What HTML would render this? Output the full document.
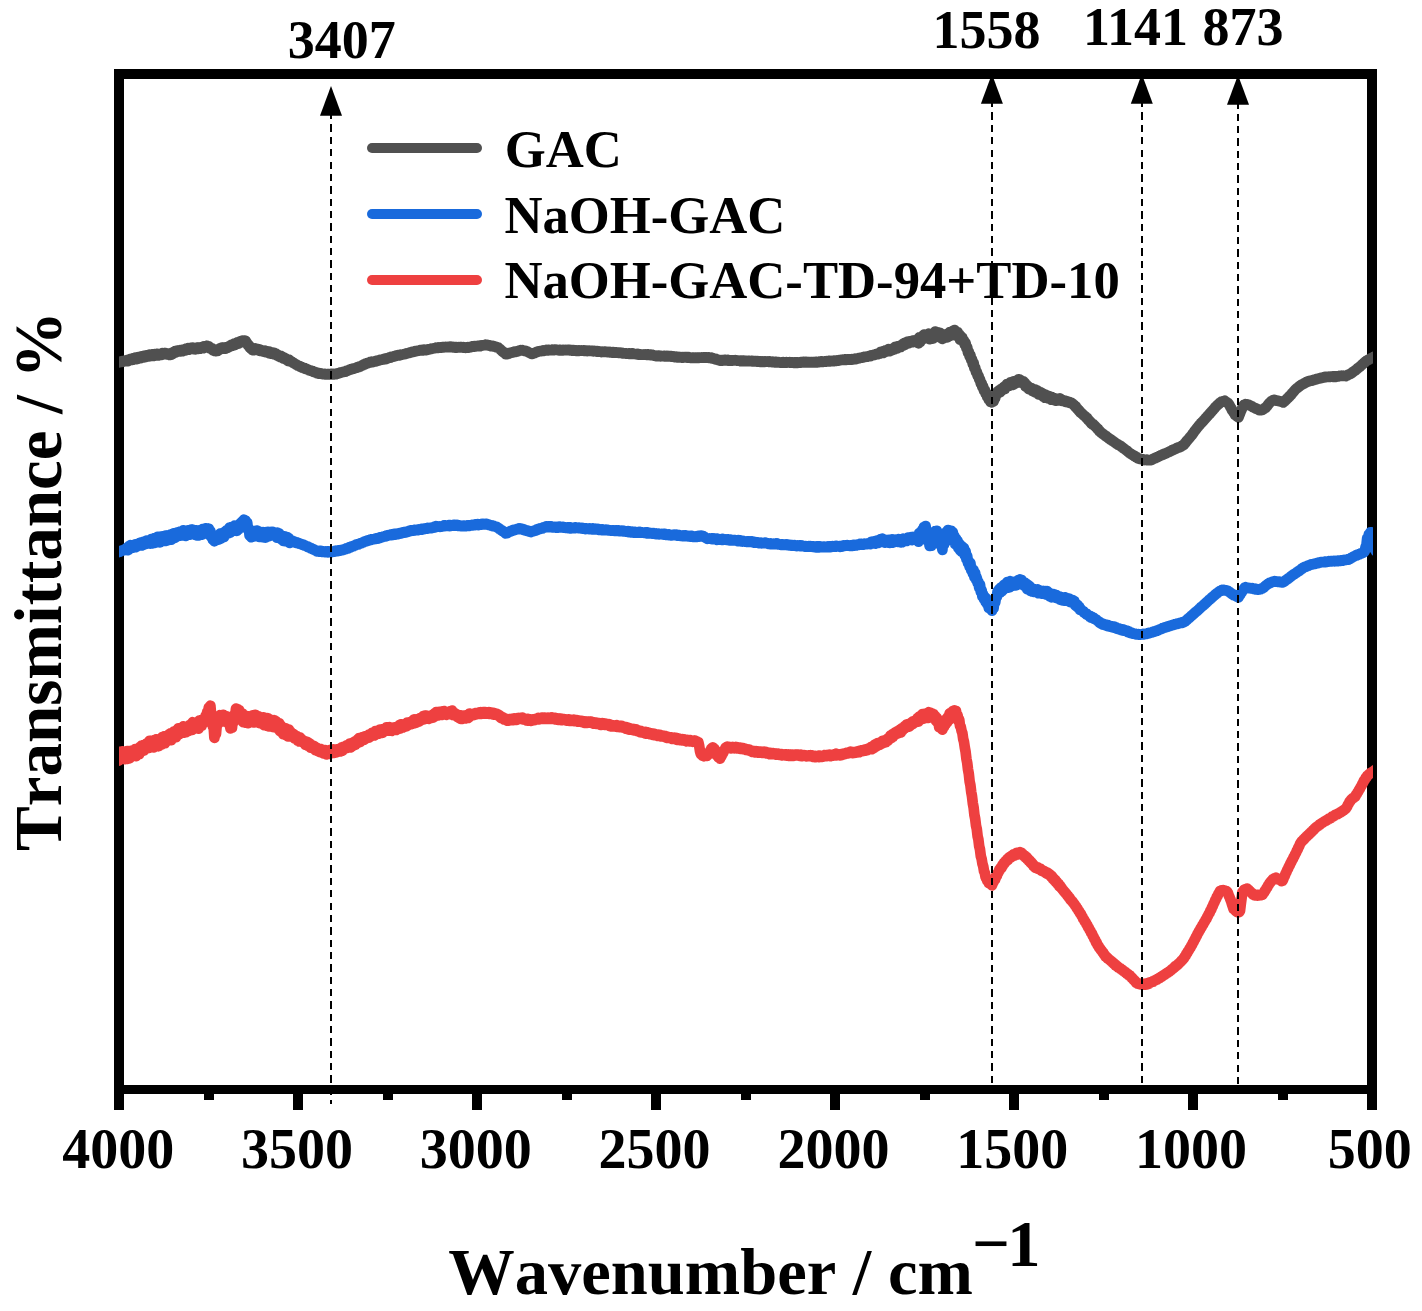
<!DOCTYPE html>
<html><head><meta charset="utf-8"><title>FTIR spectra</title>
<style>html,body{margin:0;padding:0;background:#fff;}svg{display:block;}text{font-family:"Liberation Serif",serif;font-weight:bold;fill:#000;}</style>
</head><body>
<svg width="1422" height="1311" viewBox="0 0 1422 1311">
<rect x="0" y="0" width="1422" height="1311" fill="#fff"/>
<g fill="#000" shape-rendering="crispEdges">
<rect x="114.3" y="69.0" width="1262.7" height="10.0"/>
<rect x="114.3" y="1084.8" width="1262.7" height="9.6"/>
<rect x="114.3" y="69.0" width="10.0" height="1040.6"/>
<rect x="1367.3" y="69.0" width="9.7" height="1040.6"/>
<rect x="203.5" y="1084.8" width="10" height="14.8"/>
<rect x="293.0" y="1084.8" width="10" height="24.8"/>
<rect x="382.5" y="1084.8" width="10" height="14.8"/>
<rect x="472.0" y="1084.8" width="10" height="24.8"/>
<rect x="561.5" y="1084.8" width="10" height="14.8"/>
<rect x="651.0" y="1084.8" width="10" height="24.8"/>
<rect x="740.5" y="1084.8" width="10" height="14.8"/>
<rect x="830.0" y="1084.8" width="10" height="24.8"/>
<rect x="919.5" y="1084.8" width="10" height="14.8"/>
<rect x="1009.0" y="1084.8" width="10" height="24.8"/>
<rect x="1098.5" y="1084.8" width="10" height="14.8"/>
<rect x="1188.0" y="1084.8" width="10" height="24.8"/>
<rect x="1277.5" y="1084.8" width="10" height="14.8"/>
</g>
<defs><clipPath id="cc"><rect x="119.1" y="80" width="1254" height="1005"/></clipPath></defs>
<g clip-path="url(#cc)">
<path d="M116.0,362.6 L116.8,362.7 L117.6,362.3 L118.4,362.5 L119.2,361.9 L120.0,362.1 L120.8,361.5 L121.6,361.9 L122.4,361.2 L123.2,361.6 L124.0,361.0 L124.8,361.2 L125.6,360.6 L126.4,361.2 L127.2,360.0 L128.0,361.1 L128.8,359.7 L129.6,360.3 L130.4,359.0 L131.2,360.0 L132.0,358.5 L132.8,359.7 L133.6,358.0 L134.4,359.2 L135.2,357.7 L136.0,359.2 L136.8,357.8 L137.6,358.9 L138.4,357.1 L139.2,358.1 L140.0,357.0 L140.8,358.1 L141.6,356.4 L142.4,357.5 L143.2,356.1 L144.0,357.4 L144.8,355.5 L145.6,357.0 L146.4,355.3 L147.2,356.5 L148.0,355.3 L148.8,356.3 L149.6,354.7 L150.4,356.1 L151.2,354.6 L152.0,355.7 L152.8,354.3 L153.6,356.0 L154.4,354.1 L155.2,355.6 L156.0,354.1 L156.8,355.3 L157.6,353.8 L158.4,355.4 L159.2,354.0 L160.0,354.8 L160.8,353.8 L161.6,354.8 L162.4,353.2 L163.2,354.3 L164.0,353.2 L164.8,354.1 L165.6,353.0 L166.4,354.3 L167.2,353.4 L168.0,354.6 L168.8,353.6 L169.6,355.0 L170.4,354.1 L171.2,354.7 L172.0,352.8 L172.8,353.8 L173.6,351.8 L174.4,352.9 L175.2,351.0 L176.0,352.2 L176.8,350.9 L177.6,351.6 L178.4,350.5 L179.2,351.5 L180.0,350.2 L180.8,351.5 L181.6,350.0 L182.4,351.2 L183.2,349.6 L184.0,350.5 L184.8,349.2 L185.6,350.4 L186.4,348.6 L187.2,349.7 L188.0,348.2 L188.8,349.7 L189.6,348.0 L190.4,349.0 L191.2,347.8 L192.0,348.9 L192.8,347.7 L193.6,349.1 L194.4,348.1 L195.2,349.4 L196.0,347.9 L196.8,349.0 L197.6,347.5 L198.4,348.9 L199.2,347.5 L200.0,348.7 L200.8,347.5 L201.6,348.3 L202.4,347.0 L203.2,348.2 L204.0,346.3 L204.8,347.4 L205.6,346.2 L206.4,347.0 L207.2,345.9 L208.0,347.5 L208.8,346.4 L209.6,348.3 L210.4,347.7 L211.2,349.0 L212.0,348.3 L212.8,350.2 L213.6,349.3 L214.4,350.9 L215.2,350.1 L216.0,351.2 L216.8,350.2 L217.6,351.0 L218.4,349.3 L219.2,350.0 L220.0,348.3 L220.8,349.0 L221.6,347.7 L222.4,348.7 L223.2,347.6 L224.0,348.6 L224.8,347.6 L225.6,348.6 L226.4,347.2 L227.2,348.0 L228.0,346.6 L228.8,347.3 L229.6,345.9 L230.4,346.3 L231.2,344.8 L232.0,345.9 L232.8,344.3 L233.6,345.4 L234.4,343.6 L235.2,344.8 L236.0,343.2 L236.8,344.1 L237.6,342.3 L238.4,343.6 L239.2,341.9 L240.0,342.6 L240.8,341.0 L241.6,342.0 L242.4,340.5 L243.2,342.1 L244.0,340.7 L244.8,341.4 L245.6,340.8 L246.4,343.0 L247.2,343.1 L248.0,345.3 L248.8,345.0 L249.6,347.3 L250.4,347.1 L251.2,349.0 L252.0,348.7 L252.8,350.2 L253.6,349.2 L254.4,350.1 L255.2,348.3 L256.0,349.8 L256.8,348.8 L257.6,350.1 L258.4,349.0 L259.2,350.6 L260.0,349.6 L260.8,351.0 L261.6,350.4 L262.4,351.2 L263.2,350.7 L264.0,351.8 L264.8,350.7 L265.6,352.1 L266.4,351.2 L267.2,352.3 L268.0,351.6 L268.8,353.1 L269.6,351.6 L270.4,353.6 L271.2,352.6 L272.0,353.5 L272.8,352.5 L273.6,354.1 L274.4,352.9 L275.2,354.4 L276.0,353.7 L276.8,355.3 L277.6,354.5 L278.4,356.2 L279.2,355.6 L280.0,357.0 L280.8,355.9 L281.6,357.5 L282.4,356.8 L283.2,358.5 L284.0,357.5 L284.8,358.9 L285.6,358.4 L286.4,359.8 L287.2,359.2 L288.0,360.8 L288.8,359.5 L289.6,361.4 L290.4,360.9 L291.2,361.8 L292.0,361.9 L292.8,362.8 L293.6,362.9 L294.4,363.8 L295.2,363.8 L296.0,364.7 L296.8,364.7 L297.6,365.6 L298.4,365.5 L299.2,366.3 L300.0,366.2 L300.8,367.0 L301.6,366.8 L302.4,367.6 L303.2,367.5 L304.0,368.3 L304.8,368.2 L305.6,368.9 L306.4,368.9 L307.2,369.5 L308.0,369.5 L308.8,370.1 L309.6,370.2 L310.4,370.8 L311.2,370.7 L312.0,371.3 L312.8,371.2 L313.6,371.9 L314.4,371.9 L315.2,372.5 L316.0,372.4 L316.8,373.1 L317.6,373.0 L318.4,373.5 L319.2,373.2 L320.0,373.7 L320.8,373.4 L321.6,374.0 L322.4,373.8 L323.2,374.2 L324.0,373.9 L324.8,374.3 L325.6,374.1 L326.4,374.3 L327.2,374.1 L328.0,374.4 L328.8,374.1 L329.6,374.4 L330.4,374.0 L331.2,374.3 L332.0,373.9 L332.8,374.3 L333.6,373.9 L334.4,374.3 L335.2,373.9 L336.0,374.2 L336.8,373.7 L337.6,373.8 L338.4,373.2 L339.2,373.3 L340.0,372.7 L340.8,372.8 L341.6,372.3 L342.4,372.3 L343.2,371.8 L344.0,372.0 L344.8,371.5 L345.6,371.6 L346.4,370.9 L347.2,370.9 L348.0,370.3 L348.8,370.3 L349.6,369.7 L350.4,369.7 L351.2,369.0 L352.0,369.1 L352.8,368.6 L353.6,368.7 L354.4,368.3 L355.2,368.3 L356.0,367.8 L356.8,367.7 L357.6,367.1 L358.4,367.2 L359.2,366.5 L360.0,366.6 L360.8,366.0 L361.6,366.0 L362.4,365.1 L363.2,365.1 L364.0,364.4 L364.8,364.4 L365.6,363.7 L366.4,363.8 L367.2,363.1 L368.0,363.1 L368.8,362.5 L369.6,362.6 L370.4,362.0 L371.2,362.3 L372.0,361.7 L372.8,362.0 L373.6,361.5 L374.4,361.7 L375.2,361.2 L376.0,361.4 L376.8,360.9 L377.6,360.9 L378.4,360.4 L379.2,360.4 L380.0,359.8 L380.8,360.0 L381.6,359.5 L382.4,359.7 L383.2,359.2 L384.0,359.4 L384.8,358.9 L385.6,359.1 L386.4,358.4 L387.2,358.6 L388.0,358.0 L388.8,358.0 L389.6,357.4 L390.4,357.6 L391.2,356.9 L392.0,357.0 L392.8,356.5 L393.6,356.6 L394.4,356.0 L395.2,356.2 L396.0,355.6 L396.8,355.8 L397.6,355.3 L398.4,355.5 L399.2,354.9 L400.0,355.3 L400.8,354.7 L401.6,354.8 L402.4,354.5 L403.2,354.5 L404.0,354.0 L404.8,354.2 L405.6,353.7 L406.4,353.8 L407.2,353.3 L408.0,353.3 L408.8,352.8 L409.6,352.9 L410.4,352.3 L411.2,352.4 L412.0,351.9 L412.8,352.0 L413.6,351.6 L414.4,351.7 L415.2,351.1 L416.0,351.2 L416.8,350.9 L417.6,351.0 L418.4,350.5 L419.2,350.7 L420.0,350.2 L420.8,350.4 L421.6,350.1 L422.4,350.4 L423.2,349.9 L424.0,350.2 L424.8,349.7 L425.6,350.1 L426.4,349.6 L427.2,349.9 L428.0,349.3 L428.8,349.5 L429.6,349.1 L430.4,349.2 L431.2,348.7 L432.0,348.8 L432.8,348.5 L433.6,348.5 L434.4,348.0 L435.2,348.2 L436.0,347.7 L436.8,348.0 L437.6,347.6 L438.4,347.8 L439.2,347.4 L440.0,347.7 L440.8,347.4 L441.6,347.6 L442.4,347.1 L443.2,347.4 L444.0,347.1 L444.8,347.2 L445.6,346.8 L446.4,347.2 L447.2,346.9 L448.0,347.2 L448.8,346.8 L449.6,347.2 L450.4,346.7 L451.2,347.2 L452.0,346.9 L452.8,347.3 L453.6,347.1 L454.4,347.4 L455.2,347.2 L456.0,347.7 L456.8,347.2 L457.6,347.5 L458.4,347.2 L459.2,347.5 L460.0,347.1 L460.8,347.4 L461.6,347.1 L462.4,347.5 L463.2,347.2 L464.0,347.7 L464.8,347.4 L465.6,347.8 L466.4,347.4 L467.2,347.6 L468.0,347.1 L468.8,347.5 L469.6,347.0 L470.4,347.1 L471.2,346.7 L472.0,346.9 L472.8,346.4 L473.6,346.7 L474.4,346.2 L475.2,346.4 L476.0,346.0 L476.8,346.2 L477.6,345.8 L478.4,346.1 L479.2,345.8 L480.0,346.1 L480.8,345.6 L481.6,345.8 L482.4,345.3 L483.2,345.5 L484.0,345.0 L484.8,345.2 L485.6,344.7 L486.4,345.0 L487.2,344.8 L488.0,345.4 L488.8,345.2 L489.6,345.8 L490.4,345.7 L491.2,346.2 L492.0,345.9 L492.8,346.3 L493.6,346.1 L494.4,346.7 L495.2,346.5 L496.0,347.2 L496.8,347.1 L497.6,347.7 L498.4,347.6 L499.2,348.7 L500.0,349.0 L500.8,350.1 L501.6,350.4 L502.4,351.5 L503.2,351.7 L504.0,352.8 L504.8,353.1 L505.6,354.2 L506.4,354.0 L507.2,354.1 L508.0,353.6 L508.8,353.6 L509.6,352.9 L510.4,353.0 L511.2,352.5 L512.0,352.6 L512.8,352.1 L513.6,352.3 L514.4,351.7 L515.2,351.9 L516.0,351.6 L516.8,351.6 L517.6,351.0 L518.4,351.2 L519.2,350.6 L520.0,350.6 L520.8,350.1 L521.6,350.5 L522.4,350.2 L523.2,350.7 L524.0,350.6 L524.8,351.0 L525.6,350.9 L526.4,351.4 L527.2,351.4 L528.0,352.2 L528.8,352.3 L529.6,353.0 L530.4,353.1 L531.2,353.8 L532.0,353.8 L532.8,353.8 L533.6,353.1 L534.4,353.2 L535.2,352.5 L536.0,352.4 L536.8,351.8 L537.6,352.0 L538.4,351.4 L539.2,351.5 L540.0,351.0 L540.8,351.2 L541.6,350.8 L542.4,350.9 L543.2,350.4 L544.0,350.8 L544.8,350.3 L545.6,350.5 L546.4,350.0 L547.2,350.3 L548.0,349.9 L548.8,350.3 L549.6,350.0 L550.4,350.2 L551.2,349.9 L552.0,350.2 L552.8,349.7 L553.6,350.1 L554.4,349.7 L555.2,349.9 L556.0,349.6 L556.8,350.0 L557.6,349.8 L558.4,350.2 L559.2,349.9 L560.0,350.4 L560.8,350.1 L561.6,350.4 L562.4,350.1 L563.2,350.3 L564.0,349.9 L564.8,350.2 L565.6,349.8 L566.4,350.2 L567.2,349.8 L568.0,350.1 L568.8,349.9 L569.6,350.3 L570.4,350.0 L571.2,350.3 L572.0,350.1 L572.8,350.6 L573.6,350.2 L574.4,350.7 L575.2,350.4 L576.0,350.8 L576.8,350.4 L577.6,350.8 L578.4,350.4 L579.2,350.8 L580.0,350.4 L580.8,350.7 L581.6,350.4 L582.4,350.7 L583.2,350.4 L584.0,350.8 L584.8,350.6 L585.6,350.9 L586.4,350.6 L587.2,351.0 L588.0,350.6 L588.8,351.0 L589.6,350.7 L590.4,351.0 L591.2,350.8 L592.0,351.1 L592.8,350.8 L593.6,351.3 L594.4,350.9 L595.2,351.2 L596.0,351.0 L596.8,351.5 L597.6,351.2 L598.4,351.6 L599.2,351.4 L600.0,351.7 L600.8,351.5 L601.6,352.0 L602.4,351.7 L603.2,352.0 L604.0,351.7 L604.8,351.9 L605.6,351.6 L606.4,352.0 L607.2,351.8 L608.0,352.2 L608.8,351.9 L609.6,352.3 L610.4,352.1 L611.2,352.5 L612.0,352.2 L612.8,352.6 L613.6,352.2 L614.4,352.6 L615.2,352.3 L616.0,352.6 L616.8,352.4 L617.6,352.7 L618.4,352.5 L619.2,352.9 L620.0,352.6 L620.8,352.9 L621.6,352.8 L622.4,353.3 L623.2,353.0 L624.0,353.4 L624.8,353.3 L625.6,353.6 L626.4,353.4 L627.2,353.7 L628.0,353.5 L628.8,353.8 L629.6,353.4 L630.4,353.8 L631.2,353.4 L632.0,353.9 L632.8,353.5 L633.6,354.0 L634.4,353.8 L635.2,354.1 L636.0,354.0 L636.8,354.3 L637.6,354.0 L638.4,354.6 L639.2,354.2 L640.0,354.7 L640.8,354.4 L641.6,354.7 L642.4,354.5 L643.2,354.7 L644.0,354.4 L644.8,354.7 L645.6,354.4 L646.4,354.8 L647.2,354.4 L648.0,354.9 L648.8,354.6 L649.6,354.9 L650.4,354.7 L651.2,355.2 L652.0,354.9 L652.8,355.4 L653.6,355.2 L654.4,355.6 L655.2,355.5 L656.0,356.0 L656.8,355.7 L657.6,356.1 L658.4,355.7 L659.2,356.1 L660.0,355.8 L660.8,356.3 L661.6,356.0 L662.4,356.2 L663.2,356.0 L664.0,356.3 L664.8,355.9 L665.6,356.3 L666.4,355.9 L667.2,356.3 L668.0,356.1 L668.8,356.4 L669.6,356.1 L670.4,356.4 L671.2,356.2 L672.0,356.7 L672.8,356.4 L673.6,356.9 L674.4,356.7 L675.2,357.1 L676.0,356.7 L676.8,357.3 L677.6,356.9 L678.4,357.3 L679.2,357.0 L680.0,357.4 L680.8,357.1 L681.6,357.5 L682.4,357.1 L683.2,357.5 L684.0,357.1 L684.8,357.4 L685.6,357.0 L686.4,357.3 L687.2,357.1 L688.0,357.6 L688.8,357.2 L689.6,357.7 L690.4,357.5 L691.2,357.9 L692.0,357.5 L692.8,357.8 L693.6,357.5 L694.4,357.9 L695.2,357.6 L696.0,357.8 L696.8,357.5 L697.6,357.8 L698.4,357.5 L699.2,357.8 L700.0,357.5 L700.8,357.7 L701.6,357.4 L702.4,357.7 L703.2,357.3 L704.0,357.6 L704.8,357.3 L705.6,357.6 L706.4,357.3 L707.2,357.7 L708.0,357.3 L708.8,357.8 L709.6,357.5 L710.4,357.9 L711.2,357.7 L712.0,358.4 L712.8,358.2 L713.6,358.8 L714.4,358.6 L715.2,359.3 L716.0,359.0 L716.8,359.6 L717.6,359.6 L718.4,360.1 L719.2,360.0 L720.0,360.5 L720.8,360.2 L721.6,360.6 L722.4,360.1 L723.2,360.4 L724.0,360.1 L724.8,360.4 L725.6,359.9 L726.4,360.3 L727.2,360.0 L728.0,360.5 L728.8,360.2 L729.6,360.6 L730.4,360.4 L731.2,360.6 L732.0,360.3 L732.8,360.6 L733.6,360.3 L734.4,360.5 L735.2,360.2 L736.0,360.5 L736.8,360.3 L737.6,360.7 L738.4,360.5 L739.2,360.8 L740.0,360.7 L740.8,361.2 L741.6,360.7 L742.4,361.2 L743.2,360.7 L744.0,361.1 L744.8,360.8 L745.6,361.1 L746.4,360.8 L747.2,361.2 L748.0,360.8 L748.8,361.1 L749.6,360.8 L750.4,361.2 L751.2,360.9 L752.0,361.3 L752.8,361.0 L753.6,361.3 L754.4,361.0 L755.2,361.3 L756.0,361.1 L756.8,361.5 L757.6,361.1 L758.4,361.6 L759.2,361.4 L760.0,361.8 L760.8,361.6 L761.6,361.8 L762.4,361.4 L763.2,361.8 L764.0,361.4 L764.8,361.8 L765.6,361.3 L766.4,361.7 L767.2,361.4 L768.0,361.7 L768.8,361.4 L769.6,361.9 L770.4,361.6 L771.2,362.0 L772.0,361.7 L772.8,362.1 L773.6,361.9 L774.4,362.3 L775.2,361.8 L776.0,362.3 L776.8,362.0 L777.6,362.4 L778.4,362.1 L779.2,362.4 L780.0,362.3 L780.8,362.7 L781.6,362.3 L782.4,362.7 L783.2,362.2 L784.0,362.7 L784.8,362.3 L785.6,362.6 L786.4,362.2 L787.2,362.6 L788.0,362.3 L788.8,362.5 L789.6,362.2 L790.4,362.6 L791.2,362.3 L792.0,362.6 L792.8,362.4 L793.6,362.8 L794.4,362.4 L795.2,362.9 L796.0,362.6 L796.8,362.9 L797.6,362.4 L798.4,362.7 L799.2,362.3 L800.0,362.6 L800.8,362.1 L801.6,362.4 L802.4,362.1 L803.2,362.4 L804.0,362.0 L804.8,362.4 L805.6,362.0 L806.4,362.4 L807.2,362.1 L808.0,362.4 L808.8,362.1 L809.6,362.3 L810.4,362.0 L811.2,362.3 L812.0,362.1 L812.8,362.4 L813.6,362.0 L814.4,362.3 L815.2,362.0 L816.0,362.3 L816.8,361.9 L817.6,362.3 L818.4,361.9 L819.2,362.1 L820.0,361.6 L820.8,361.9 L821.6,361.5 L822.4,361.9 L823.2,361.5 L824.0,361.7 L824.8,361.3 L825.6,361.6 L826.4,361.2 L827.2,361.5 L828.0,361.1 L828.8,361.4 L829.6,360.9 L830.4,361.3 L831.2,360.9 L832.0,361.2 L832.8,360.8 L833.6,361.1 L834.4,360.7 L835.2,361.0 L836.0,360.6 L836.8,360.8 L837.6,360.3 L838.4,360.6 L839.2,360.0 L840.0,360.2 L840.8,359.8 L841.6,360.0 L842.4,359.7 L843.2,360.0 L844.0,359.6 L844.8,359.9 L845.6,359.4 L846.4,359.8 L847.2,359.3 L848.0,359.6 L848.8,359.4 L849.6,359.6 L850.4,359.3 L851.2,359.6 L852.0,359.2 L852.8,359.4 L853.6,359.0 L854.4,359.2 L855.2,358.7 L856.0,359.0 L856.8,358.5 L857.6,358.7 L858.4,358.2 L859.2,358.2 L860.0,357.8 L860.8,357.8 L861.6,357.5 L862.4,357.6 L863.2,357.1 L864.0,357.3 L864.8,356.8 L865.6,357.0 L866.4,356.5 L867.2,356.7 L868.0,356.3 L868.8,356.3 L869.6,355.8 L870.4,356.1 L871.2,355.4 L872.0,355.5 L872.8,355.0 L873.6,355.1 L874.4,354.6 L875.2,354.8 L876.0,354.2 L876.8,354.3 L877.6,353.7 L878.4,354.0 L879.2,353.5 L880.0,353.5 L880.8,351.8 L881.6,352.9 L882.4,351.5 L883.2,353.0 L884.0,351.0 L884.8,352.0 L885.6,350.3 L886.4,351.5 L887.2,350.1 L888.0,350.9 L888.8,349.1 L889.6,351.2 L890.4,349.1 L891.2,350.5 L892.0,348.9 L892.8,350.0 L893.6,348.2 L894.4,349.2 L895.2,346.9 L896.0,348.4 L896.8,346.7 L897.6,348.3 L898.4,346.0 L899.2,347.0 L900.0,345.6 L900.8,347.0 L901.6,345.1 L902.4,345.8 L903.2,343.7 L904.0,345.3 L904.8,342.8 L905.6,344.4 L906.4,342.2 L907.2,343.5 L908.0,341.5 L908.8,343.2 L909.6,341.3 L910.4,342.7 L911.2,341.2 L912.0,342.2 L912.8,340.6 L913.6,341.8 L914.4,340.5 L915.2,341.5 L916.0,340.0 L916.8,341.3 L917.6,339.8 L918.4,343.3 L919.2,337.4 L920.0,342.0 L920.8,337.3 L921.6,339.8 L922.4,336.0 L923.2,339.0 L924.0,334.6 L924.8,337.8 L925.6,334.9 L926.4,337.4 L927.2,334.6 L928.0,338.2 L928.8,333.7 L929.6,339.2 L930.4,335.4 L931.2,338.6 L932.0,335.0 L932.8,338.6 L933.6,333.4 L934.4,337.2 L935.2,331.6 L936.0,336.3 L936.8,332.4 L937.6,335.6 L938.4,332.7 L939.2,336.3 L940.0,332.9 L940.8,337.9 L941.6,334.2 L942.4,338.9 L943.2,335.4 L944.0,338.1 L944.8,334.5 L945.6,336.9 L946.4,334.1 L947.2,337.4 L948.0,333.8 L948.8,336.2 L949.6,332.2 L950.4,335.7 L951.2,331.8 L952.0,335.2 L952.8,330.8 L953.6,334.6 L954.4,330.1 L955.2,334.1 L956.0,331.6 L956.8,335.4 L957.6,332.2 L958.4,337.2 L959.2,334.4 L960.0,339.7 L960.8,336.3 L961.6,340.2 L962.4,337.7 L963.2,341.7 L964.0,340.6 L964.8,344.6 L965.6,343.0 L966.4,348.2 L967.2,347.3 L968.0,352.7 L968.8,351.9 L969.6,356.3 L970.4,355.2 L971.2,359.8 L972.0,359.3 L972.8,364.0 L973.6,362.9 L974.4,368.3 L975.2,367.7 L976.0,372.0 L976.8,371.9 L977.6,375.7 L978.4,375.5 L979.2,379.2 L980.0,379.4 L980.8,383.5 L981.6,383.2 L982.4,387.1 L983.2,387.0 L984.0,390.6 L984.8,390.0 L985.6,393.6 L986.4,393.0 L987.2,396.8 L988.0,396.5 L988.8,399.5 L989.6,398.6 L990.4,401.8 L991.2,400.1 L992.0,402.3 L992.8,399.1 L993.6,401.4 L994.4,398.1 L995.2,398.0 L996.0,394.0 L996.8,394.1 L997.6,391.5 L998.4,392.7 L999.2,390.3 L1000.0,392.3 L1000.8,389.2 L1001.6,390.8 L1002.4,388.2 L1003.2,389.2 L1004.0,386.9 L1004.8,389.0 L1005.6,385.4 L1006.4,387.0 L1007.2,384.0 L1008.0,385.9 L1008.8,383.5 L1009.6,385.7 L1010.4,382.3 L1011.2,384.8 L1012.0,382.2 L1012.8,384.9 L1013.6,381.4 L1014.4,384.0 L1015.2,381.0 L1016.0,383.2 L1016.8,380.6 L1017.6,382.3 L1018.4,379.3 L1019.2,382.2 L1020.0,379.6 L1020.8,382.7 L1021.6,380.8 L1022.4,382.8 L1023.2,381.3 L1024.0,384.0 L1024.8,382.8 L1025.6,386.5 L1026.4,384.7 L1027.2,387.2 L1028.0,386.2 L1028.8,389.1 L1029.6,387.3 L1030.4,389.4 L1031.2,388.0 L1032.0,390.7 L1032.8,389.1 L1033.6,391.6 L1034.4,389.4 L1035.2,392.3 L1036.0,389.9 L1036.8,393.0 L1037.6,390.5 L1038.4,394.3 L1039.2,392.0 L1040.0,394.5 L1040.8,392.3 L1041.6,395.3 L1042.4,393.3 L1043.2,396.6 L1044.0,394.1 L1044.8,397.7 L1045.6,394.7 L1046.4,397.5 L1047.2,395.5 L1048.0,398.4 L1048.8,396.1 L1049.6,398.7 L1050.4,397.0 L1051.2,399.7 L1052.0,397.2 L1052.8,399.6 L1053.6,398.0 L1054.4,400.2 L1055.2,398.5 L1056.0,400.7 L1056.8,398.8 L1057.6,400.3 L1058.4,399.0 L1059.2,400.5 L1060.0,398.4 L1060.8,400.2 L1061.6,399.8 L1062.4,400.8 L1063.2,400.3 L1064.0,401.1 L1064.8,400.7 L1065.6,401.8 L1066.4,401.4 L1067.2,402.1 L1068.0,401.7 L1068.8,402.7 L1069.6,402.1 L1070.4,403.0 L1071.2,402.6 L1072.0,403.4 L1072.8,403.6 L1073.6,405.0 L1074.4,405.1 L1075.2,406.8 L1076.0,406.7 L1076.8,408.4 L1077.6,408.7 L1078.4,410.3 L1079.2,410.4 L1080.0,412.1 L1080.8,412.1 L1081.6,413.5 L1082.4,413.7 L1083.2,415.1 L1084.0,415.2 L1084.8,416.3 L1085.6,416.6 L1086.4,418.0 L1087.2,418.0 L1088.0,419.9 L1088.8,420.0 L1089.6,421.5 L1090.4,421.7 L1091.2,423.3 L1092.0,423.3 L1092.8,424.8 L1093.6,424.5 L1094.4,425.9 L1095.2,426.0 L1096.0,427.3 L1096.8,427.8 L1097.6,429.1 L1098.4,429.3 L1099.2,431.1 L1100.0,431.3 L1100.8,432.5 L1101.6,432.9 L1102.4,433.7 L1103.2,434.0 L1104.0,434.9 L1104.8,435.2 L1105.6,436.1 L1106.4,436.3 L1107.2,437.2 L1108.0,437.6 L1108.8,438.4 L1109.6,438.7 L1110.4,439.6 L1111.2,439.8 L1112.0,440.7 L1112.8,440.9 L1113.6,441.8 L1114.4,442.1 L1115.2,442.8 L1116.0,443.2 L1116.8,443.9 L1117.6,444.1 L1118.4,444.9 L1119.2,445.1 L1120.0,445.8 L1120.8,446.1 L1121.6,446.9 L1122.4,447.3 L1123.2,448.1 L1124.0,448.5 L1124.8,449.3 L1125.6,449.7 L1126.4,450.5 L1127.2,450.9 L1128.0,451.7 L1128.8,452.2 L1129.6,453.1 L1130.4,453.4 L1131.2,454.1 L1132.0,454.4 L1132.8,455.2 L1133.6,455.3 L1134.4,456.1 L1135.2,456.3 L1136.0,457.1 L1136.8,457.3 L1137.6,458.2 L1138.4,458.4 L1139.2,458.8 L1140.0,458.7 L1140.8,459.2 L1141.6,459.0 L1142.4,459.5 L1143.2,459.4 L1144.0,460.0 L1144.8,459.6 L1145.6,460.0 L1146.4,459.7 L1147.2,460.1 L1148.0,459.9 L1148.8,460.1 L1149.6,460.0 L1150.4,460.2 L1151.2,459.9 L1152.0,459.7 L1152.8,459.1 L1153.6,459.0 L1154.4,458.3 L1155.2,458.1 L1156.0,457.6 L1156.8,457.5 L1157.6,456.9 L1158.4,456.7 L1159.2,456.0 L1160.0,456.0 L1160.8,455.2 L1161.6,455.2 L1162.4,454.5 L1163.2,454.6 L1164.0,453.9 L1164.8,453.9 L1165.6,453.3 L1166.4,453.3 L1167.2,452.6 L1168.0,452.5 L1168.8,451.8 L1169.6,451.7 L1170.4,451.1 L1171.2,450.9 L1172.0,450.3 L1172.8,450.1 L1173.6,449.5 L1174.4,449.4 L1175.2,448.7 L1176.0,448.6 L1176.8,448.0 L1177.6,447.9 L1178.4,447.4 L1179.2,447.4 L1180.0,446.7 L1180.8,446.6 L1181.6,446.0 L1182.4,445.8 L1183.2,445.1 L1184.0,444.6 L1184.8,443.3 L1185.6,442.6 L1186.4,441.3 L1187.2,440.6 L1188.0,439.5 L1188.8,438.8 L1189.6,437.6 L1190.4,436.9 L1191.2,435.7 L1192.0,434.9 L1192.8,433.6 L1193.6,432.7 L1194.4,431.3 L1195.2,430.5 L1196.0,429.2 L1196.8,428.4 L1197.6,427.2 L1198.4,426.4 L1199.2,425.2 L1200.0,424.6 L1200.8,423.4 L1201.6,422.8 L1202.4,421.7 L1203.2,421.1 L1204.0,420.0 L1204.8,419.3 L1205.6,418.1 L1206.4,417.6 L1207.2,416.4 L1208.0,415.7 L1208.8,414.6 L1209.6,414.0 L1210.4,412.8 L1211.2,412.1 L1212.0,411.0 L1212.8,410.3 L1213.6,409.2 L1214.4,408.5 L1215.2,407.3 L1216.0,406.7 L1216.8,405.6 L1217.6,405.2 L1218.4,404.2 L1219.2,403.7 L1220.0,402.7 L1220.8,402.3 L1221.6,401.6 L1222.4,401.7 L1223.2,401.2 L1224.0,401.2 L1224.8,400.7 L1225.6,401.6 L1226.4,401.9 L1227.2,402.7 L1228.0,403.0 L1228.8,404.2 L1229.6,405.3 L1230.4,407.1 L1231.2,408.2 L1232.0,410.1 L1232.8,411.0 L1233.6,412.5 L1234.4,413.4 L1235.2,415.0 L1236.0,415.5 L1236.8,416.3 L1237.6,416.5 L1238.4,417.4 L1239.2,415.4 L1240.0,413.6 L1240.8,411.3 L1241.6,409.7 L1242.4,407.6 L1243.2,406.0 L1244.0,404.8 L1244.8,404.8 L1245.6,404.2 L1246.4,404.5 L1247.2,404.3 L1248.0,404.8 L1248.8,404.8 L1249.6,405.5 L1250.4,405.6 L1251.2,406.3 L1252.0,406.4 L1252.8,407.2 L1253.6,407.3 L1254.4,408.0 L1255.2,408.1 L1256.0,408.6 L1256.8,408.7 L1257.6,409.3 L1258.4,409.5 L1259.2,410.1 L1260.0,410.1 L1260.8,410.2 L1261.6,409.8 L1262.4,409.9 L1263.2,409.3 L1264.0,409.0 L1264.8,408.1 L1265.6,407.8 L1266.4,406.8 L1267.2,406.0 L1268.0,404.8 L1268.8,403.9 L1269.6,402.7 L1270.4,402.2 L1271.2,401.3 L1272.0,401.0 L1272.8,400.3 L1273.6,400.0 L1274.4,399.9 L1275.2,400.4 L1276.0,400.3 L1276.8,400.7 L1277.6,400.6 L1278.4,401.0 L1279.2,401.0 L1280.0,401.5 L1280.8,401.4 L1281.6,401.9 L1282.4,401.9 L1283.2,402.4 L1284.0,401.8 L1284.8,401.1 L1285.6,400.1 L1286.4,399.6 L1287.2,398.5 L1288.0,398.0 L1288.8,396.9 L1289.6,396.4 L1290.4,395.4 L1291.2,394.7 L1292.0,393.4 L1292.8,392.7 L1293.6,391.6 L1294.4,390.9 L1295.2,389.7 L1296.0,389.0 L1296.8,388.2 L1297.6,387.9 L1298.4,387.0 L1299.2,386.7 L1300.0,385.8 L1300.8,385.5 L1301.6,384.6 L1302.4,384.4 L1303.2,383.7 L1304.0,383.6 L1304.8,382.9 L1305.6,382.7 L1306.4,382.1 L1307.2,382.0 L1308.0,381.4 L1308.8,381.4 L1309.6,380.9 L1310.4,381.0 L1311.2,380.5 L1312.0,380.6 L1312.8,380.0 L1313.6,380.1 L1314.4,379.6 L1315.2,379.7 L1316.0,379.2 L1316.8,379.3 L1317.6,378.8 L1318.4,378.8 L1319.2,378.3 L1320.0,378.4 L1320.8,377.9 L1321.6,377.9 L1322.4,377.5 L1323.2,377.6 L1324.0,377.1 L1324.8,377.3 L1325.6,376.9 L1326.4,377.1 L1327.2,376.8 L1328.0,377.0 L1328.8,376.7 L1329.6,376.9 L1330.4,376.5 L1331.2,376.7 L1332.0,376.5 L1332.8,376.8 L1333.6,376.4 L1334.4,376.8 L1335.2,376.5 L1336.0,376.8 L1336.8,376.3 L1337.6,376.5 L1338.4,376.2 L1339.2,376.3 L1340.0,375.8 L1340.8,376.0 L1341.6,375.7 L1342.4,376.0 L1343.2,375.7 L1344.0,376.0 L1344.8,375.8 L1345.6,376.1 L1346.4,375.6 L1347.2,375.5 L1348.0,374.9 L1348.8,374.8 L1349.6,374.1 L1350.4,374.0 L1351.2,373.2 L1352.0,373.0 L1352.8,372.1 L1353.6,371.8 L1354.4,370.9 L1355.2,370.6 L1356.0,369.7 L1356.8,369.3 L1357.6,368.4 L1358.4,368.0 L1359.2,367.0 L1360.0,366.6 L1360.8,365.7 L1361.6,365.2 L1362.4,364.3 L1363.2,363.7 L1364.0,362.8 L1364.8,362.3 L1365.6,361.3 L1366.4,360.9 L1367.2,360.2 L1368.0,360.1 L1368.8,359.4 L1369.6,359.2 L1370.4,358.5 L1371.2,358.5 L1372.0,357.7 L1372.8,357.6 L1373.6,357.0 L1374.4,356.8 L1375.2,356.2 L1376.0,356.3 L1376.8,355.4 L1377.0,355.6" fill="none" stroke="#505050" stroke-width="10.7" stroke-linejoin="round" stroke-linecap="butt"/>
<path d="M116.0,552.6 L116.8,552.7 L117.6,552.1 L118.4,552.2 L119.2,551.4 L120.0,551.7 L120.8,550.9 L121.6,551.0 L122.4,550.4 L123.2,550.5 L124.0,549.7 L124.8,549.8 L125.6,548.9 L126.4,550.0 L127.2,547.6 L128.0,550.2 L128.8,546.1 L129.6,548.9 L130.4,545.2 L131.2,547.5 L132.0,545.4 L132.8,547.6 L133.6,545.2 L134.4,547.3 L135.2,544.4 L136.0,547.1 L136.8,544.5 L137.6,545.9 L138.4,543.5 L139.2,545.5 L140.0,542.8 L140.8,545.1 L141.6,542.3 L142.4,545.3 L143.2,541.9 L144.0,544.6 L144.8,542.1 L145.6,544.1 L146.4,540.7 L147.2,543.5 L148.0,541.0 L148.8,543.2 L149.6,540.1 L150.4,543.6 L151.2,539.1 L152.0,543.5 L152.8,539.3 L153.6,542.9 L154.4,538.0 L155.2,542.8 L156.0,538.5 L156.8,542.2 L157.6,536.8 L158.4,542.0 L159.2,538.3 L160.0,542.3 L160.8,536.5 L161.6,540.5 L162.4,536.3 L163.2,539.9 L164.0,537.3 L164.8,540.9 L165.6,535.6 L166.4,540.8 L167.2,535.5 L168.0,539.8 L168.8,536.1 L169.6,539.8 L170.4,534.6 L171.2,539.7 L172.0,534.1 L172.8,537.8 L173.6,533.4 L174.4,537.9 L175.2,533.7 L176.0,537.1 L176.8,532.7 L177.6,535.3 L178.4,532.3 L179.2,535.6 L180.0,531.6 L180.8,535.6 L181.6,531.6 L182.4,535.4 L183.2,530.4 L184.0,535.3 L184.8,531.1 L185.6,536.0 L186.4,531.1 L187.2,534.5 L188.0,530.4 L188.8,534.6 L189.6,530.5 L190.4,534.6 L191.2,529.6 L192.0,534.2 L192.8,529.7 L193.6,533.6 L194.4,530.8 L195.2,534.9 L196.0,530.3 L196.8,535.3 L197.6,531.2 L198.4,535.4 L199.2,530.3 L200.0,534.3 L200.8,531.5 L201.6,534.7 L202.4,529.2 L203.2,534.1 L204.0,529.6 L204.8,533.3 L205.6,528.4 L206.4,532.8 L207.2,528.5 L208.0,533.1 L208.8,528.7 L209.6,535.0 L210.4,531.2 L211.2,537.0 L212.0,534.3 L212.8,539.8 L213.6,535.3 L214.4,541.3 L215.2,536.0 L216.0,540.1 L216.8,536.4 L217.6,539.8 L218.4,536.2 L219.2,539.3 L220.0,533.7 L220.8,538.6 L221.6,534.3 L222.4,536.6 L223.2,532.8 L224.0,536.9 L224.8,531.7 L225.6,534.5 L226.4,530.4 L227.2,533.6 L228.0,530.4 L228.8,533.2 L229.6,527.5 L230.4,532.5 L231.2,527.1 L232.0,530.5 L232.8,526.7 L233.6,530.8 L234.4,525.7 L235.2,530.0 L236.0,527.0 L236.8,530.8 L237.6,526.0 L238.4,529.4 L239.2,524.2 L240.0,528.1 L240.8,522.9 L241.6,525.0 L242.4,521.2 L243.2,524.6 L244.0,519.7 L244.8,523.7 L245.6,520.6 L246.4,525.6 L247.2,522.7 L248.0,529.6 L248.8,528.1 L249.6,535.6 L250.4,533.5 L251.2,537.2 L252.0,531.8 L252.8,536.6 L253.6,532.8 L254.4,536.4 L255.2,531.2 L256.0,535.9 L256.8,530.5 L257.6,536.2 L258.4,531.4 L259.2,536.9 L260.0,533.1 L260.8,536.4 L261.6,532.8 L262.4,537.1 L263.2,532.2 L264.0,537.4 L264.8,533.0 L265.6,537.6 L266.4,532.1 L267.2,536.6 L268.0,531.9 L268.8,536.3 L269.6,532.0 L270.4,535.3 L271.2,532.1 L272.0,534.6 L272.8,531.9 L273.6,535.3 L274.4,532.5 L275.2,536.0 L276.0,532.8 L276.8,537.7 L277.6,532.7 L278.4,538.0 L279.2,533.4 L280.0,538.1 L280.8,535.6 L281.6,539.5 L282.4,536.0 L283.2,540.8 L284.0,536.3 L284.8,541.2 L285.6,537.2 L286.4,540.3 L287.2,537.1 L288.0,542.0 L288.8,538.2 L289.6,542.9 L290.4,540.0 L291.2,540.9 L292.0,540.6 L292.8,541.6 L293.6,541.4 L294.4,542.1 L295.2,541.9 L296.0,542.8 L296.8,542.5 L297.6,543.2 L298.4,542.9 L299.2,543.7 L300.0,543.5 L300.8,544.1 L301.6,544.0 L302.4,544.9 L303.2,544.7 L304.0,545.4 L304.8,545.4 L305.6,546.0 L306.4,546.0 L307.2,546.9 L308.0,546.7 L308.8,547.4 L309.6,547.3 L310.4,548.1 L311.2,548.0 L312.0,549.0 L312.8,548.8 L313.6,549.7 L314.4,549.6 L315.2,550.5 L316.0,550.3 L316.8,551.2 L317.6,550.8 L318.4,551.3 L319.2,551.0 L320.0,551.6 L320.8,551.0 L321.6,551.7 L322.4,551.2 L323.2,551.9 L324.0,551.5 L324.8,552.0 L325.6,551.7 L326.4,552.1 L327.2,551.6 L328.0,552.3 L328.8,551.6 L329.6,552.2 L330.4,551.8 L331.2,552.2 L332.0,551.5 L332.8,551.8 L333.6,551.4 L334.4,551.7 L335.2,551.0 L336.0,551.3 L336.8,550.7 L337.6,551.1 L338.4,550.4 L339.2,550.8 L340.0,550.2 L340.8,550.5 L341.6,549.9 L342.4,550.2 L343.2,549.5 L344.0,549.7 L344.8,549.0 L345.6,549.1 L346.4,548.4 L347.2,548.5 L348.0,547.9 L348.8,548.2 L349.6,547.2 L350.4,547.4 L351.2,546.7 L352.0,546.8 L352.8,546.1 L353.6,546.2 L354.4,545.4 L355.2,545.4 L356.0,544.7 L356.8,544.8 L357.6,544.2 L358.4,544.4 L359.2,543.6 L360.0,543.7 L360.8,543.0 L361.6,543.2 L362.4,542.5 L363.2,542.5 L364.0,541.7 L364.8,541.8 L365.6,541.2 L366.4,541.3 L367.2,540.6 L368.0,540.8 L368.8,540.1 L369.6,540.3 L370.4,539.6 L371.2,539.9 L372.0,539.3 L372.8,539.5 L373.6,539.0 L374.4,539.2 L375.2,538.7 L376.0,538.9 L376.8,538.4 L377.6,538.7 L378.4,537.9 L379.2,538.2 L380.0,537.5 L380.8,537.8 L381.6,537.2 L382.4,537.2 L383.2,536.6 L384.0,536.7 L384.8,536.2 L385.6,536.4 L386.4,535.7 L387.2,535.9 L388.0,535.3 L388.8,535.5 L389.6,534.9 L390.4,535.1 L391.2,534.5 L392.0,535.0 L392.8,534.3 L393.6,534.8 L394.4,534.1 L395.2,534.6 L396.0,533.9 L396.8,534.3 L397.6,533.7 L398.4,534.0 L399.2,533.2 L400.0,533.6 L400.8,532.9 L401.6,533.3 L402.4,532.5 L403.2,532.8 L404.0,532.2 L404.8,532.5 L405.6,532.0 L406.4,532.3 L407.2,531.6 L408.0,531.8 L408.8,531.0 L409.6,531.3 L410.4,530.5 L411.2,530.9 L412.0,530.3 L412.8,530.6 L413.6,530.1 L414.4,530.4 L415.2,529.9 L416.0,530.2 L416.8,529.8 L417.6,530.1 L418.4,529.6 L419.2,529.8 L420.0,529.3 L420.8,529.6 L421.6,529.0 L422.4,529.5 L423.2,528.8 L424.0,529.1 L424.8,528.5 L425.6,528.7 L426.4,528.2 L427.2,528.6 L428.0,527.9 L428.8,528.3 L429.6,527.9 L430.4,528.2 L431.2,527.6 L432.0,528.0 L432.8,527.3 L433.6,527.6 L434.4,526.8 L435.2,527.2 L436.0,526.3 L436.8,526.8 L437.6,526.3 L438.4,526.7 L439.2,526.4 L440.0,526.8 L440.8,526.4 L441.6,526.6 L442.4,526.0 L443.2,526.2 L444.0,525.5 L444.8,526.0 L445.6,525.4 L446.4,525.8 L447.2,525.4 L448.0,525.9 L448.8,525.3 L449.6,525.9 L450.4,525.3 L451.2,525.8 L452.0,525.3 L452.8,525.6 L453.6,525.0 L454.4,525.6 L455.2,524.9 L456.0,525.4 L456.8,525.0 L457.6,525.7 L458.4,525.2 L459.2,525.9 L460.0,525.6 L460.8,526.2 L461.6,525.8 L462.4,526.2 L463.2,525.7 L464.0,526.2 L464.8,525.7 L465.6,526.1 L466.4,525.7 L467.2,525.9 L468.0,525.4 L468.8,525.9 L469.6,525.4 L470.4,525.6 L471.2,525.1 L472.0,525.4 L472.8,524.9 L473.6,525.2 L474.4,524.6 L475.2,525.0 L476.0,524.5 L476.8,524.8 L477.6,524.3 L478.4,524.9 L479.2,524.3 L480.0,524.6 L480.8,524.2 L481.6,524.5 L482.4,524.0 L483.2,524.4 L484.0,523.8 L484.8,524.2 L485.6,523.8 L486.4,524.4 L487.2,524.1 L488.0,524.8 L488.8,524.6 L489.6,525.2 L490.4,525.0 L491.2,525.7 L492.0,525.4 L492.8,526.1 L493.6,525.8 L494.4,526.5 L495.2,526.5 L496.0,527.0 L496.8,526.8 L497.6,527.7 L498.4,527.8 L499.2,528.8 L500.0,529.0 L500.8,530.0 L501.6,530.2 L502.4,531.1 L503.2,531.1 L504.0,532.2 L504.8,532.3 L505.6,533.4 L506.4,532.9 L507.2,533.1 L508.0,532.3 L508.8,532.3 L509.6,531.5 L510.4,531.7 L511.2,530.8 L512.0,530.9 L512.8,530.2 L513.6,530.4 L514.4,529.8 L515.2,529.9 L516.0,529.3 L516.8,529.5 L517.6,528.9 L518.4,529.1 L519.2,528.4 L520.0,528.8 L520.8,528.6 L521.6,529.3 L522.4,528.9 L523.2,529.8 L524.0,529.5 L524.8,530.4 L525.6,530.2 L526.4,530.8 L527.2,530.6 L528.0,531.1 L528.8,530.9 L529.6,531.7 L530.4,531.4 L531.2,532.0 L532.0,531.3 L532.8,531.4 L533.6,530.8 L534.4,530.9 L535.2,530.1 L536.0,530.4 L536.8,529.5 L537.6,529.8 L538.4,528.9 L539.2,529.2 L540.0,528.5 L540.8,528.8 L541.6,528.1 L542.4,528.4 L543.2,527.5 L544.0,527.7 L544.8,526.9 L545.6,527.2 L546.4,526.5 L547.2,527.0 L548.0,526.5 L548.8,527.1 L549.6,526.5 L550.4,527.1 L551.2,526.5 L552.0,527.2 L552.8,526.8 L553.6,527.3 L554.4,526.9 L555.2,527.4 L556.0,527.0 L556.8,527.6 L557.6,527.0 L558.4,527.5 L559.2,526.8 L560.0,527.3 L560.8,526.8 L561.6,527.3 L562.4,527.0 L563.2,527.5 L564.0,527.1 L564.8,527.7 L565.6,527.4 L566.4,527.9 L567.2,527.4 L568.0,528.0 L568.8,527.5 L569.6,528.2 L570.4,527.6 L571.2,528.2 L572.0,527.7 L572.8,528.1 L573.6,527.6 L574.4,528.1 L575.2,527.5 L576.0,527.9 L576.8,527.6 L577.6,528.0 L578.4,527.7 L579.2,528.2 L580.0,527.8 L580.8,528.3 L581.6,528.0 L582.4,528.5 L583.2,528.2 L584.0,528.7 L584.8,528.4 L585.6,529.0 L586.4,528.5 L587.2,528.9 L588.0,528.6 L588.8,529.0 L589.6,528.4 L590.4,529.0 L591.2,528.6 L592.0,529.2 L592.8,528.6 L593.6,529.2 L594.4,528.6 L595.2,529.1 L596.0,528.9 L596.8,529.4 L597.6,529.0 L598.4,529.7 L599.2,529.3 L600.0,529.9 L600.8,529.5 L601.6,530.0 L602.4,529.5 L603.2,530.1 L604.0,529.7 L604.8,530.1 L605.6,529.7 L606.4,530.2 L607.2,529.9 L608.0,530.3 L608.8,530.1 L609.6,530.5 L610.4,530.3 L611.2,530.7 L612.0,530.3 L612.8,530.6 L613.6,530.3 L614.4,530.8 L615.2,530.4 L616.0,530.9 L616.8,530.5 L617.6,530.8 L618.4,530.4 L619.2,531.1 L620.0,530.6 L620.8,531.1 L621.6,530.7 L622.4,531.2 L623.2,530.9 L624.0,531.4 L624.8,531.1 L625.6,531.6 L626.4,531.4 L627.2,531.8 L628.0,531.3 L628.8,532.1 L629.6,531.6 L630.4,532.3 L631.2,531.8 L632.0,532.4 L632.8,531.9 L633.6,532.5 L634.4,532.0 L635.2,532.5 L636.0,532.1 L636.8,532.5 L637.6,532.1 L638.4,532.6 L639.2,532.0 L640.0,532.5 L640.8,532.2 L641.6,532.6 L642.4,532.4 L643.2,532.7 L644.0,532.5 L644.8,532.9 L645.6,532.5 L646.4,533.2 L647.2,532.6 L648.0,533.3 L648.8,532.8 L649.6,533.3 L650.4,533.0 L651.2,533.4 L652.0,533.2 L652.8,533.6 L653.6,533.2 L654.4,533.8 L655.2,533.5 L656.0,534.0 L656.8,533.6 L657.6,534.1 L658.4,533.7 L659.2,534.3 L660.0,533.8 L660.8,534.2 L661.6,533.8 L662.4,534.3 L663.2,533.9 L664.0,534.6 L664.8,534.0 L665.6,534.7 L666.4,534.3 L667.2,534.9 L668.0,534.5 L668.8,535.1 L669.6,534.7 L670.4,535.3 L671.2,534.9 L672.0,535.3 L672.8,534.9 L673.6,535.2 L674.4,534.7 L675.2,535.2 L676.0,534.8 L676.8,535.5 L677.6,535.0 L678.4,535.5 L679.2,535.2 L680.0,535.8 L680.8,535.4 L681.6,535.9 L682.4,535.6 L683.2,536.1 L684.0,535.5 L684.8,536.0 L685.6,535.5 L686.4,536.1 L687.2,535.8 L688.0,536.3 L688.8,535.8 L689.6,536.3 L690.4,536.0 L691.2,536.6 L692.0,536.0 L692.8,536.8 L693.6,536.3 L694.4,536.8 L695.2,536.4 L696.0,536.9 L696.8,536.3 L697.6,536.6 L698.4,536.0 L699.2,536.5 L700.0,535.9 L700.8,536.2 L701.6,535.6 L702.4,536.0 L703.2,536.1 L704.0,537.0 L704.8,537.1 L705.6,538.0 L706.4,538.0 L707.2,538.8 L708.0,538.3 L708.8,538.7 L709.6,538.4 L710.4,538.7 L711.2,538.4 L712.0,539.0 L712.8,538.5 L713.6,539.1 L714.4,538.7 L715.2,539.3 L716.0,538.9 L716.8,539.6 L717.6,538.9 L718.4,539.6 L719.2,539.2 L720.0,539.6 L720.8,539.2 L721.6,539.7 L722.4,539.1 L723.2,539.8 L724.0,539.4 L724.8,539.7 L725.6,539.3 L726.4,539.8 L727.2,539.4 L728.0,540.0 L728.8,539.6 L729.6,540.2 L730.4,539.7 L731.2,540.3 L732.0,540.0 L732.8,540.4 L733.6,540.1 L734.4,540.4 L735.2,540.1 L736.0,540.5 L736.8,540.3 L737.6,540.9 L738.4,540.3 L739.2,540.9 L740.0,540.5 L740.8,541.2 L741.6,540.7 L742.4,541.4 L743.2,540.9 L744.0,541.5 L744.8,541.3 L745.6,541.7 L746.4,541.5 L747.2,541.9 L748.0,541.4 L748.8,541.8 L749.6,541.5 L750.4,541.8 L751.2,541.5 L752.0,542.0 L752.8,541.7 L753.6,542.4 L754.4,541.9 L755.2,542.5 L756.0,542.1 L756.8,542.6 L757.6,542.3 L758.4,543.0 L759.2,542.6 L760.0,543.1 L760.8,542.7 L761.6,543.3 L762.4,542.9 L763.2,543.2 L764.0,542.8 L764.8,543.2 L765.6,542.7 L766.4,543.2 L767.2,543.0 L768.0,543.7 L768.8,543.3 L769.6,543.8 L770.4,543.5 L771.2,544.1 L772.0,543.6 L772.8,544.1 L773.6,543.7 L774.4,544.1 L775.2,543.7 L776.0,544.1 L776.8,543.6 L777.6,544.3 L778.4,544.0 L779.2,544.5 L780.0,544.3 L780.8,544.8 L781.6,544.3 L782.4,544.8 L783.2,544.5 L784.0,544.8 L784.8,544.5 L785.6,544.9 L786.4,544.5 L787.2,545.0 L788.0,544.7 L788.8,545.3 L789.6,544.9 L790.4,545.4 L791.2,545.1 L792.0,545.6 L792.8,545.2 L793.6,545.6 L794.4,545.2 L795.2,545.8 L796.0,545.5 L796.8,546.0 L797.6,545.5 L798.4,545.9 L799.2,545.5 L800.0,546.0 L800.8,545.5 L801.6,546.0 L802.4,545.7 L803.2,546.2 L804.0,546.0 L804.8,546.5 L805.6,546.1 L806.4,546.6 L807.2,546.3 L808.0,546.6 L808.8,546.2 L809.6,546.6 L810.4,546.1 L811.2,546.6 L812.0,546.3 L812.8,546.9 L813.6,546.5 L814.4,547.0 L815.2,546.6 L816.0,547.2 L816.8,546.6 L817.6,547.2 L818.4,546.6 L819.2,547.2 L820.0,546.6 L820.8,547.2 L821.6,546.9 L822.4,547.2 L823.2,546.7 L824.0,547.2 L824.8,546.7 L825.6,547.1 L826.4,546.7 L827.2,547.1 L828.0,546.5 L828.8,547.0 L829.6,546.5 L830.4,547.0 L831.2,546.4 L832.0,546.8 L832.8,546.2 L833.6,546.6 L834.4,546.1 L835.2,546.6 L836.0,546.0 L836.8,546.4 L837.6,546.1 L838.4,546.5 L839.2,546.2 L840.0,546.7 L840.8,546.1 L841.6,546.6 L842.4,545.8 L843.2,546.1 L844.0,545.4 L844.8,545.8 L845.6,545.3 L846.4,545.6 L847.2,545.1 L848.0,545.6 L848.8,545.3 L849.6,545.8 L850.4,545.4 L851.2,545.8 L852.0,545.2 L852.8,545.7 L853.6,545.0 L854.4,545.5 L855.2,544.9 L856.0,545.4 L856.8,544.8 L857.6,545.0 L858.4,544.4 L859.2,544.8 L860.0,544.1 L860.8,544.6 L861.6,544.1 L862.4,544.3 L863.2,543.9 L864.0,544.4 L864.8,543.7 L865.6,544.1 L866.4,543.6 L867.2,544.1 L868.0,543.4 L868.8,543.7 L869.6,543.1 L870.4,544.1 L871.2,541.8 L872.0,543.6 L872.8,541.5 L873.6,543.3 L874.4,541.7 L875.2,543.7 L876.0,540.8 L876.8,542.6 L877.6,540.4 L878.4,542.9 L879.2,540.0 L880.0,541.7 L880.8,539.1 L881.6,541.6 L882.4,538.6 L883.2,541.7 L884.0,539.7 L884.8,542.6 L885.6,539.9 L886.4,542.5 L887.2,540.6 L888.0,542.6 L888.8,539.8 L889.6,542.8 L890.4,539.8 L891.2,541.7 L892.0,539.4 L892.8,542.6 L893.6,540.0 L894.4,541.5 L895.2,539.7 L896.0,541.2 L896.8,539.7 L897.6,541.8 L898.4,539.2 L899.2,541.9 L900.0,539.5 L900.8,542.3 L901.6,539.1 L902.4,542.2 L903.2,538.7 L904.0,541.1 L904.8,538.9 L905.6,540.4 L906.4,538.3 L907.2,540.8 L908.0,537.5 L908.8,539.6 L909.6,537.7 L910.4,539.7 L911.2,537.1 L912.0,540.1 L912.8,537.2 L913.6,539.5 L914.4,536.8 L915.2,539.5 L916.0,536.5 L916.8,539.2 L917.6,536.3 L918.4,541.7 L919.2,533.0 L920.0,539.9 L920.8,533.4 L921.6,539.5 L922.4,529.5 L923.2,535.0 L924.0,527.0 L924.8,532.2 L925.6,526.1 L926.4,533.8 L927.2,531.3 L928.0,539.7 L928.8,539.1 L929.6,546.0 L930.4,542.3 L931.2,545.7 L932.0,536.1 L932.8,542.7 L933.6,533.7 L934.4,541.1 L935.2,531.0 L936.0,539.0 L936.8,530.8 L937.6,540.6 L938.4,534.8 L939.2,539.6 L940.0,535.3 L940.8,545.5 L941.6,540.1 L942.4,549.8 L943.2,538.2 L944.0,544.5 L944.8,536.3 L945.6,541.1 L946.4,531.8 L947.2,536.6 L948.0,530.0 L948.8,535.9 L949.6,530.9 L950.4,539.2 L951.2,530.8 L952.0,540.7 L952.8,532.3 L953.6,541.3 L954.4,536.3 L955.2,544.1 L956.0,538.7 L956.8,545.5 L957.6,540.9 L958.4,548.1 L959.2,543.8 L960.0,550.2 L960.8,545.6 L961.6,551.7 L962.4,546.7 L963.2,552.4 L964.0,548.3 L964.8,555.3 L965.6,551.4 L966.4,559.1 L967.2,556.2 L968.0,563.0 L968.8,561.0 L969.6,566.7 L970.4,563.1 L971.2,570.2 L972.0,568.2 L972.8,573.4 L973.6,570.3 L974.4,577.2 L975.2,573.3 L976.0,579.7 L976.8,577.8 L977.6,583.0 L978.4,581.9 L979.2,587.9 L980.0,584.7 L980.8,591.9 L981.6,589.9 L982.4,596.5 L983.2,594.5 L984.0,599.2 L984.8,597.1 L985.6,602.0 L986.4,598.8 L987.2,604.1 L988.0,601.5 L988.8,608.0 L989.6,603.5 L990.4,608.9 L991.2,604.9 L992.0,610.7 L992.8,605.2 L993.6,608.2 L994.4,601.4 L995.2,602.4 L996.0,596.8 L996.8,597.1 L997.6,591.2 L998.4,593.8 L999.2,589.1 L1000.0,592.6 L1000.8,587.6 L1001.6,591.5 L1002.4,586.6 L1003.2,589.8 L1004.0,584.9 L1004.8,588.2 L1005.6,584.8 L1006.4,587.1 L1007.2,582.2 L1008.0,587.7 L1008.8,582.8 L1009.6,587.2 L1010.4,581.2 L1011.2,585.2 L1012.0,581.9 L1012.8,585.8 L1013.6,582.4 L1014.4,585.4 L1015.2,581.9 L1016.0,585.3 L1016.8,581.0 L1017.6,583.6 L1018.4,580.0 L1019.2,583.1 L1020.0,579.4 L1020.8,584.1 L1021.6,579.9 L1022.4,584.5 L1023.2,582.6 L1024.0,585.7 L1024.8,582.6 L1025.6,586.7 L1026.4,583.8 L1027.2,589.1 L1028.0,585.1 L1028.8,589.8 L1029.6,586.3 L1030.4,590.8 L1031.2,588.7 L1032.0,591.5 L1032.8,588.7 L1033.6,591.9 L1034.4,589.2 L1035.2,591.5 L1036.0,589.8 L1036.8,591.9 L1037.6,589.3 L1038.4,593.2 L1039.2,590.2 L1040.0,592.3 L1040.8,590.7 L1041.6,593.7 L1042.4,591.0 L1043.2,593.1 L1044.0,591.2 L1044.8,593.4 L1045.6,591.2 L1046.4,594.7 L1047.2,591.2 L1048.0,595.1 L1048.8,592.4 L1049.6,596.3 L1050.4,593.9 L1051.2,597.3 L1052.0,595.0 L1052.8,596.8 L1053.6,594.2 L1054.4,597.5 L1055.2,594.7 L1056.0,597.9 L1056.8,595.1 L1057.6,598.4 L1058.4,596.7 L1059.2,599.1 L1060.0,596.5 L1060.8,600.0 L1061.6,597.1 L1062.4,600.5 L1063.2,597.8 L1064.0,600.6 L1064.8,597.3 L1065.6,600.5 L1066.4,597.9 L1067.2,600.8 L1068.0,598.4 L1068.8,600.9 L1069.6,598.7 L1070.4,602.2 L1071.2,599.6 L1072.0,601.9 L1072.8,600.2 L1073.6,603.2 L1074.4,601.0 L1075.2,605.3 L1076.0,603.6 L1076.8,606.5 L1077.6,604.8 L1078.4,607.9 L1079.2,606.7 L1080.0,609.8 L1080.8,609.1 L1081.6,610.6 L1082.4,610.5 L1083.2,611.9 L1084.0,611.7 L1084.8,613.2 L1085.6,613.2 L1086.4,614.5 L1087.2,614.1 L1088.0,615.3 L1088.8,615.3 L1089.6,616.6 L1090.4,616.3 L1091.2,617.5 L1092.0,617.1 L1092.8,618.2 L1093.6,617.7 L1094.4,619.0 L1095.2,618.9 L1096.0,619.8 L1096.8,619.9 L1097.6,621.1 L1098.4,621.2 L1099.2,622.5 L1100.0,622.1 L1100.8,623.5 L1101.6,623.2 L1102.4,624.5 L1103.2,623.9 L1104.0,624.8 L1104.8,624.4 L1105.6,625.3 L1106.4,624.9 L1107.2,626.1 L1108.0,625.2 L1108.8,626.2 L1109.6,625.7 L1110.4,626.8 L1111.2,626.2 L1112.0,627.1 L1112.8,626.5 L1113.6,627.4 L1114.4,626.9 L1115.2,627.8 L1116.0,627.5 L1116.8,628.6 L1117.6,628.0 L1118.4,629.0 L1119.2,628.5 L1120.0,629.6 L1120.8,629.3 L1121.6,630.3 L1122.4,629.3 L1123.2,630.4 L1124.0,630.0 L1124.8,630.8 L1125.6,630.2 L1126.4,631.3 L1127.2,630.8 L1128.0,632.0 L1128.8,631.6 L1129.6,632.7 L1130.4,632.4 L1131.2,633.1 L1132.0,632.9 L1132.8,633.6 L1133.6,633.5 L1134.4,634.0 L1135.2,633.9 L1136.0,634.4 L1136.8,634.2 L1137.6,634.5 L1138.4,634.2 L1139.2,634.6 L1140.0,634.3 L1140.8,634.6 L1141.6,634.3 L1142.4,634.5 L1143.2,634.0 L1144.0,634.3 L1144.8,633.8 L1145.6,633.9 L1146.4,633.6 L1147.2,633.8 L1148.0,633.2 L1148.8,633.4 L1149.6,632.9 L1150.4,633.0 L1151.2,632.5 L1152.0,632.5 L1152.8,631.8 L1153.6,632.0 L1154.4,631.3 L1155.2,631.5 L1156.0,630.9 L1156.8,631.0 L1157.6,630.3 L1158.4,630.3 L1159.2,629.6 L1160.0,629.5 L1160.8,629.0 L1161.6,628.9 L1162.4,628.2 L1163.2,628.3 L1164.0,627.7 L1164.8,627.7 L1165.6,627.1 L1166.4,627.1 L1167.2,626.5 L1168.0,626.7 L1168.8,626.0 L1169.6,626.1 L1170.4,625.6 L1171.2,625.6 L1172.0,625.1 L1172.8,625.1 L1173.6,624.6 L1174.4,624.7 L1175.2,624.0 L1176.0,624.2 L1176.8,623.7 L1177.6,623.9 L1178.4,623.3 L1179.2,623.4 L1180.0,622.9 L1180.8,623.0 L1181.6,622.5 L1182.4,622.8 L1183.2,622.3 L1184.0,622.3 L1184.8,621.4 L1185.6,621.2 L1186.4,620.2 L1187.2,619.7 L1188.0,618.7 L1188.8,618.3 L1189.6,617.3 L1190.4,616.9 L1191.2,615.8 L1192.0,615.4 L1192.8,614.5 L1193.6,614.1 L1194.4,613.1 L1195.2,612.7 L1196.0,611.7 L1196.8,611.3 L1197.6,610.3 L1198.4,609.9 L1199.2,608.8 L1200.0,608.4 L1200.8,607.4 L1201.6,607.0 L1202.4,606.0 L1203.2,605.6 L1204.0,604.6 L1204.8,604.1 L1205.6,603.1 L1206.4,602.6 L1207.2,601.6 L1208.0,601.2 L1208.8,600.1 L1209.6,599.8 L1210.4,598.7 L1211.2,598.3 L1212.0,597.2 L1212.8,596.9 L1213.6,595.9 L1214.4,595.6 L1215.2,594.5 L1216.0,594.2 L1216.8,593.2 L1217.6,593.0 L1218.4,592.0 L1219.2,591.8 L1220.0,590.9 L1220.8,590.9 L1221.6,590.2 L1222.4,590.5 L1223.2,589.9 L1224.0,590.2 L1224.8,590.1 L1225.6,590.5 L1226.4,590.4 L1227.2,590.9 L1228.0,590.8 L1228.8,591.8 L1229.6,591.9 L1230.4,592.9 L1231.2,593.2 L1232.0,594.1 L1232.8,594.3 L1233.6,595.1 L1234.4,595.0 L1235.2,595.7 L1236.0,595.9 L1236.8,596.6 L1237.6,596.7 L1238.4,597.4 L1239.2,595.9 L1240.0,595.0 L1240.8,593.4 L1241.6,592.5 L1242.4,590.9 L1243.2,590.2 L1244.0,588.5 L1244.8,587.6 L1245.6,587.2 L1246.4,587.6 L1247.2,587.5 L1248.0,587.9 L1248.8,587.8 L1249.6,588.2 L1250.4,588.1 L1251.2,588.5 L1252.0,588.2 L1252.8,588.8 L1253.6,588.6 L1254.4,589.1 L1255.2,588.9 L1256.0,589.4 L1256.8,589.1 L1257.6,589.7 L1258.4,589.5 L1259.2,589.5 L1260.0,589.1 L1260.8,589.2 L1261.6,588.4 L1262.4,588.5 L1263.2,587.8 L1264.0,587.4 L1264.8,586.3 L1265.6,585.9 L1266.4,584.9 L1267.2,584.6 L1268.0,583.7 L1268.8,583.6 L1269.6,582.9 L1270.4,583.0 L1271.2,582.2 L1272.0,582.2 L1272.8,581.5 L1273.6,581.5 L1274.4,581.2 L1275.2,581.7 L1276.0,581.3 L1276.8,581.7 L1277.6,581.5 L1278.4,581.9 L1279.2,581.6 L1280.0,582.2 L1280.8,581.8 L1281.6,582.3 L1282.4,582.0 L1283.2,582.3 L1284.0,581.7 L1284.8,581.2 L1285.6,580.2 L1286.4,580.0 L1287.2,579.1 L1288.0,578.9 L1288.8,577.9 L1289.6,577.7 L1290.4,576.8 L1291.2,576.5 L1292.0,575.6 L1292.8,575.3 L1293.6,574.4 L1294.4,574.3 L1295.2,573.4 L1296.0,573.1 L1296.8,572.2 L1297.6,572.0 L1298.4,571.1 L1299.2,570.9 L1300.0,570.1 L1300.8,569.7 L1301.6,568.8 L1302.4,568.6 L1303.2,567.7 L1304.0,567.5 L1304.8,566.9 L1305.6,566.9 L1306.4,566.3 L1307.2,566.3 L1308.0,565.6 L1308.8,565.7 L1309.6,565.0 L1310.4,565.0 L1311.2,564.4 L1312.0,564.5 L1312.8,564.1 L1313.6,564.2 L1314.4,563.7 L1315.2,563.9 L1316.0,563.3 L1316.8,563.4 L1317.6,562.9 L1318.4,563.1 L1319.2,562.6 L1320.0,562.6 L1320.8,562.1 L1321.6,562.2 L1322.4,562.0 L1323.2,562.2 L1324.0,561.8 L1324.8,562.1 L1325.6,561.6 L1326.4,561.9 L1327.2,561.5 L1328.0,561.6 L1328.8,561.2 L1329.6,561.5 L1330.4,561.1 L1331.2,561.4 L1332.0,561.0 L1332.8,561.2 L1333.6,560.9 L1334.4,561.3 L1335.2,560.8 L1336.0,561.2 L1336.8,560.8 L1337.6,561.1 L1338.4,560.7 L1339.2,560.9 L1340.0,560.5 L1340.8,560.8 L1341.6,560.4 L1342.4,560.7 L1343.2,560.2 L1344.0,560.3 L1344.8,559.9 L1345.6,560.0 L1346.4,559.6 L1347.2,559.7 L1348.0,559.2 L1348.8,559.5 L1349.6,559.0 L1350.4,558.8 L1351.2,557.9 L1352.0,557.8 L1352.8,557.0 L1353.6,556.8 L1354.4,556.1 L1355.2,556.0 L1356.0,555.2 L1356.8,555.4 L1357.6,554.7 L1358.4,554.8 L1359.2,554.1 L1360.0,554.1 L1360.8,553.4 L1361.6,553.4 L1362.4,552.8 L1363.2,552.8 L1364.0,552.1 L1364.8,551.1 L1365.6,547.0 L1366.4,545.9 L1367.2,538.1 L1368.0,542.8 L1368.8,534.5 L1369.6,547.1 L1370.4,532.3 L1371.2,544.8 L1372.0,532.5 L1372.8,544.8 L1373.6,537.7 L1374.4,545.2 L1375.2,538.1 L1376.0,551.2 L1376.8,537.6 L1377.0,551.4" fill="none" stroke="#196ADC" stroke-width="10.7" stroke-linejoin="round" stroke-linecap="butt"/>
<path d="M116.0,754.7 L116.8,760.2 L117.6,754.3 L118.4,760.6 L119.2,752.7 L120.0,758.6 L120.8,751.5 L121.6,757.7 L122.4,751.3 L123.2,758.5 L124.0,753.6 L124.8,759.2 L125.6,751.7 L126.4,758.1 L127.2,751.0 L128.0,758.8 L128.8,751.1 L129.6,758.1 L130.4,750.9 L131.2,755.9 L132.0,750.7 L132.8,754.9 L133.6,750.3 L134.4,754.7 L135.2,749.0 L136.0,756.1 L136.8,749.6 L137.6,754.1 L138.4,748.3 L139.2,754.2 L140.0,746.8 L140.8,751.0 L141.6,745.5 L142.4,751.1 L143.2,745.2 L144.0,750.4 L144.8,745.5 L145.6,748.9 L146.4,743.5 L147.2,747.9 L148.0,743.0 L148.8,748.0 L149.6,740.8 L150.4,745.8 L151.2,740.9 L152.0,745.0 L152.8,741.2 L153.6,747.5 L154.4,740.0 L155.2,745.2 L156.0,739.4 L156.8,745.7 L157.6,740.0 L158.4,746.3 L159.2,740.3 L160.0,744.4 L160.8,739.4 L161.6,744.4 L162.4,737.0 L163.2,742.7 L164.0,736.4 L164.8,743.3 L165.6,737.3 L166.4,741.4 L167.2,735.8 L168.0,740.3 L168.8,734.4 L169.6,739.8 L170.4,733.4 L171.2,740.1 L172.0,733.5 L172.8,737.6 L173.6,731.7 L174.4,736.9 L175.2,731.0 L176.0,737.1 L176.8,730.2 L177.6,734.6 L178.4,728.3 L179.2,734.2 L180.0,728.9 L180.8,733.4 L181.6,728.7 L182.4,732.2 L183.2,726.4 L184.0,732.7 L184.8,727.0 L185.6,732.3 L186.4,727.3 L187.2,730.6 L188.0,726.8 L188.8,730.9 L189.6,725.0 L190.4,730.1 L191.2,724.1 L192.0,729.9 L192.8,722.2 L193.6,728.6 L194.4,722.9 L195.2,727.9 L196.0,722.8 L196.8,727.8 L197.6,722.6 L198.4,728.7 L199.2,720.7 L200.0,726.6 L200.8,720.1 L201.6,725.8 L202.4,719.7 L203.2,723.2 L204.0,718.9 L204.8,721.4 L205.6,715.9 L206.4,718.9 L207.2,711.9 L208.0,713.4 L208.8,707.6 L209.6,712.3 L210.4,705.7 L211.2,715.4 L212.0,714.4 L212.8,726.5 L213.6,726.2 L214.4,737.8 L215.2,731.5 L216.0,733.8 L216.8,724.3 L217.6,724.7 L218.4,716.6 L219.2,722.1 L220.0,715.2 L220.8,720.5 L221.6,715.8 L222.4,721.4 L223.2,714.9 L224.0,720.9 L224.8,716.0 L225.6,721.1 L226.4,716.2 L227.2,721.6 L228.0,717.4 L228.8,724.1 L229.6,718.7 L230.4,728.4 L231.2,722.0 L232.0,727.8 L232.8,719.2 L233.6,721.9 L234.4,714.4 L235.2,715.5 L236.0,708.6 L236.8,712.8 L237.6,709.3 L238.4,714.3 L239.2,710.2 L240.0,717.9 L240.8,713.2 L241.6,719.9 L242.4,713.5 L243.2,722.1 L244.0,716.7 L244.8,722.6 L245.6,715.8 L246.4,722.5 L247.2,717.2 L248.0,723.2 L248.8,716.7 L249.6,721.0 L250.4,716.4 L251.2,721.7 L252.0,715.7 L252.8,722.2 L253.6,715.1 L254.4,722.5 L255.2,714.9 L256.0,720.9 L256.8,715.9 L257.6,722.0 L258.4,716.2 L259.2,723.1 L260.0,717.3 L260.8,723.2 L261.6,718.1 L262.4,723.5 L263.2,717.4 L264.0,725.2 L264.8,717.9 L265.6,723.8 L266.4,719.3 L267.2,726.0 L268.0,718.2 L268.8,726.4 L269.6,719.2 L270.4,726.5 L271.2,720.4 L272.0,726.8 L272.8,722.6 L273.6,727.2 L274.4,720.2 L275.2,727.0 L276.0,721.4 L276.8,727.1 L277.6,722.7 L278.4,729.2 L279.2,723.3 L280.0,731.0 L280.8,725.5 L281.6,731.8 L282.4,727.6 L283.2,734.2 L284.0,728.3 L284.8,734.9 L285.6,728.3 L286.4,734.3 L287.2,730.1 L288.0,736.5 L288.8,729.5 L289.6,736.5 L290.4,731.7 L291.2,735.6 L292.0,733.6 L292.8,736.0 L293.6,733.9 L294.4,738.3 L295.2,735.9 L296.0,739.2 L296.8,736.2 L297.6,740.6 L298.4,737.8 L299.2,741.5 L300.0,737.5 L300.8,741.3 L301.6,739.1 L302.4,742.2 L303.2,740.4 L304.0,743.3 L304.8,741.6 L305.6,745.0 L306.4,741.7 L307.2,745.4 L308.0,742.2 L308.8,745.6 L309.6,743.3 L310.4,747.6 L311.2,744.8 L312.0,747.4 L312.8,745.5 L313.6,748.6 L314.4,746.0 L315.2,750.1 L316.0,748.4 L316.8,750.6 L317.6,748.2 L318.4,751.4 L319.2,748.9 L320.0,752.1 L320.8,749.0 L321.6,752.3 L322.4,749.6 L323.2,753.3 L324.0,750.7 L324.8,753.6 L325.6,750.1 L326.4,754.4 L327.2,751.4 L328.0,753.1 L328.8,750.6 L329.6,753.8 L330.4,749.9 L331.2,752.9 L332.0,749.8 L332.8,753.0 L333.6,749.4 L334.4,752.9 L335.2,750.1 L336.0,752.4 L336.8,749.3 L337.6,751.8 L338.4,749.1 L339.2,751.2 L340.0,748.5 L340.8,751.4 L341.6,747.4 L342.4,750.7 L343.2,746.9 L344.0,749.2 L344.8,746.4 L345.6,748.1 L346.4,745.4 L347.2,747.9 L348.0,744.8 L348.8,746.9 L349.6,743.6 L350.4,747.4 L351.2,744.1 L352.0,746.6 L352.8,742.6 L353.6,745.5 L354.4,741.6 L355.2,744.8 L356.0,741.3 L356.8,743.7 L357.6,739.4 L358.4,742.5 L359.2,738.0 L360.0,741.9 L360.8,738.5 L361.6,740.1 L362.4,737.0 L363.2,740.1 L364.0,736.7 L364.8,739.6 L365.6,736.0 L366.4,738.4 L367.2,736.0 L368.0,737.8 L368.8,734.7 L369.6,737.3 L370.4,734.0 L371.2,736.2 L372.0,732.9 L372.8,735.0 L373.6,732.6 L374.4,735.5 L375.2,731.1 L376.0,733.5 L376.8,730.9 L377.6,733.2 L378.4,730.4 L379.2,733.6 L380.0,729.5 L380.8,732.1 L381.6,729.4 L382.4,732.9 L383.2,729.1 L384.0,731.4 L384.8,728.8 L385.6,730.8 L386.4,727.3 L387.2,730.6 L388.0,728.2 L388.8,730.6 L389.6,727.2 L390.4,730.0 L391.2,728.4 L392.0,730.8 L392.8,728.1 L393.6,729.9 L394.4,727.3 L395.2,729.9 L396.0,727.2 L396.8,729.8 L397.6,726.6 L398.4,729.0 L399.2,725.1 L400.0,728.6 L400.8,724.3 L401.6,727.0 L402.4,724.6 L403.2,727.5 L404.0,724.5 L404.8,726.8 L405.6,724.5 L406.4,726.4 L407.2,722.5 L408.0,725.5 L408.8,722.8 L409.6,724.5 L410.4,721.9 L411.2,724.2 L412.0,721.1 L412.8,723.6 L413.6,719.7 L414.4,723.2 L415.2,719.4 L416.0,722.9 L416.8,720.0 L417.6,721.9 L418.4,719.3 L419.2,721.4 L420.0,718.0 L420.8,720.6 L421.6,717.6 L422.4,719.5 L423.2,716.0 L424.0,719.4 L424.8,715.6 L425.6,718.2 L426.4,715.7 L427.2,718.3 L428.0,716.0 L428.8,718.9 L429.6,715.9 L430.4,718.0 L431.2,716.0 L432.0,717.8 L432.8,714.9 L433.6,717.5 L434.4,713.4 L435.2,716.2 L436.0,712.1 L436.8,715.1 L437.6,712.5 L438.4,715.3 L439.2,711.8 L440.0,714.6 L440.8,712.2 L441.6,715.0 L442.4,711.3 L443.2,714.2 L444.0,711.0 L444.8,714.2 L445.6,711.9 L446.4,714.9 L447.2,712.0 L448.0,713.7 L448.8,711.7 L449.6,714.2 L450.4,711.1 L451.2,714.5 L452.0,710.6 L452.8,715.0 L453.6,712.2 L454.4,715.4 L455.2,713.5 L456.0,716.1 L456.8,714.1 L457.6,717.1 L458.4,715.3 L459.2,718.1 L460.0,715.4 L460.8,718.9 L461.6,715.7 L462.4,718.8 L463.2,715.7 L464.0,718.0 L464.8,715.5 L465.6,718.5 L466.4,715.3 L467.2,717.4 L468.0,715.1 L468.8,717.8 L469.6,713.5 L470.4,715.8 L471.2,714.4 L472.0,715.3 L472.8,713.8 L473.6,715.1 L474.4,713.9 L475.2,714.4 L476.0,713.0 L476.8,714.3 L477.6,712.8 L478.4,713.8 L479.2,712.4 L480.0,714.0 L480.8,712.2 L481.6,713.8 L482.4,712.5 L483.2,713.4 L484.0,712.0 L484.8,713.6 L485.6,712.0 L486.4,713.6 L487.2,712.4 L488.0,713.4 L488.8,712.2 L489.6,713.8 L490.4,712.3 L491.2,714.0 L492.0,712.8 L492.8,714.3 L493.6,712.9 L494.4,714.7 L495.2,713.4 L496.0,714.7 L496.8,713.8 L497.6,715.3 L498.4,714.6 L499.2,716.4 L500.0,715.7 L500.8,717.9 L501.6,716.7 L502.4,718.4 L503.2,717.5 L504.0,719.5 L504.8,718.4 L505.6,719.6 L506.4,718.9 L507.2,720.6 L508.0,719.3 L508.8,720.7 L509.6,719.0 L510.4,720.2 L511.2,719.1 L512.0,720.2 L512.8,718.6 L513.6,720.1 L514.4,718.4 L515.2,719.7 L516.0,718.4 L516.8,719.8 L517.6,718.0 L518.4,719.3 L519.2,718.1 L520.0,718.8 L520.8,717.8 L521.6,718.8 L522.4,717.7 L523.2,719.4 L524.0,718.7 L524.8,719.7 L525.6,718.8 L526.4,720.5 L527.2,718.9 L528.0,720.6 L528.8,719.2 L529.6,720.4 L530.4,719.4 L531.2,720.9 L532.0,719.8 L532.8,720.5 L533.6,719.3 L534.4,720.2 L535.2,719.0 L536.0,719.7 L536.8,718.6 L537.6,719.5 L538.4,717.9 L539.2,719.3 L540.0,718.0 L540.8,719.0 L541.6,717.6 L542.4,718.5 L543.2,717.6 L544.0,718.8 L544.8,717.7 L545.6,718.9 L546.4,718.1 L547.2,719.0 L548.0,717.5 L548.8,719.0 L549.6,717.8 L550.4,718.8 L551.2,717.4 L552.0,718.9 L552.8,717.7 L553.6,718.9 L554.4,717.8 L555.2,719.4 L556.0,718.2 L556.8,719.6 L557.6,718.4 L558.4,719.8 L559.2,718.6 L560.0,719.7 L560.8,718.5 L561.6,720.1 L562.4,719.0 L563.2,719.9 L564.0,719.2 L564.8,720.2 L565.6,719.3 L566.4,720.6 L567.2,719.5 L568.0,720.5 L568.8,719.4 L569.6,720.9 L570.4,719.6 L571.2,721.0 L572.0,720.1 L572.8,720.9 L573.6,719.7 L574.4,721.1 L575.2,720.2 L576.0,721.1 L576.8,720.1 L577.6,721.6 L578.4,720.4 L579.2,721.6 L580.0,720.9 L580.8,721.8 L581.6,720.8 L582.4,722.2 L583.2,721.0 L584.0,722.8 L584.8,721.3 L585.6,723.0 L586.4,721.8 L587.2,722.9 L588.0,721.5 L588.8,722.6 L589.6,721.5 L590.4,722.6 L591.2,721.6 L592.0,723.0 L592.8,722.0 L593.6,723.7 L594.4,722.3 L595.2,723.7 L596.0,722.7 L596.8,724.0 L597.6,723.3 L598.4,724.2 L599.2,723.1 L600.0,724.8 L600.8,723.4 L601.6,724.8 L602.4,723.2 L603.2,724.7 L604.0,723.3 L604.8,724.8 L605.6,723.5 L606.4,724.7 L607.2,724.2 L608.0,725.3 L608.8,724.2 L609.6,726.1 L610.4,724.9 L611.2,726.5 L612.0,725.1 L612.8,726.5 L613.6,725.4 L614.4,726.3 L615.2,725.5 L616.0,726.6 L616.8,725.1 L617.6,726.9 L618.4,725.8 L619.2,727.1 L620.0,725.8 L620.8,726.8 L621.6,725.8 L622.4,727.4 L623.2,726.5 L624.0,727.8 L624.8,727.1 L625.6,728.6 L626.4,727.2 L627.2,729.0 L628.0,727.6 L628.8,729.6 L629.6,728.1 L630.4,729.5 L631.2,729.1 L632.0,730.0 L632.8,729.1 L633.6,730.3 L634.4,729.1 L635.2,730.3 L636.0,729.3 L636.8,731.0 L637.6,730.2 L638.4,731.5 L639.2,730.5 L640.0,732.1 L640.8,730.9 L641.6,732.5 L642.4,731.5 L643.2,732.7 L644.0,731.9 L644.8,733.3 L645.6,731.9 L646.4,733.6 L647.2,732.4 L648.0,733.5 L648.8,732.7 L649.6,734.1 L650.4,733.0 L651.2,734.4 L652.0,733.5 L652.8,735.0 L653.6,733.5 L654.4,735.1 L655.2,734.0 L656.0,735.5 L656.8,734.7 L657.6,735.9 L658.4,734.7 L659.2,736.0 L660.0,734.9 L660.8,736.4 L661.6,735.3 L662.4,736.5 L663.2,735.5 L664.0,736.8 L664.8,735.8 L665.6,737.4 L666.4,736.3 L667.2,738.0 L668.0,736.9 L668.8,737.8 L669.6,737.2 L670.4,738.3 L671.2,737.3 L672.0,738.9 L672.8,737.5 L673.6,739.0 L674.4,737.6 L675.2,738.9 L676.0,737.8 L676.8,739.8 L677.6,738.2 L678.4,739.9 L679.2,738.7 L680.0,740.2 L680.8,739.1 L681.6,740.4 L682.4,739.1 L683.2,740.3 L684.0,739.4 L684.8,740.7 L685.6,739.9 L686.4,741.3 L687.2,739.9 L688.0,741.0 L688.8,740.0 L689.6,741.4 L690.4,740.2 L691.2,741.2 L692.0,740.5 L692.8,741.8 L693.6,740.7 L694.4,741.8 L695.2,740.6 L696.0,741.9 L696.8,741.3 L697.6,742.4 L698.4,742.4 L699.2,746.0 L700.0,751.3 L700.8,754.1 L701.6,754.6 L702.4,755.7 L703.2,755.0 L704.0,756.3 L704.8,754.8 L705.6,755.8 L706.4,755.1 L707.2,755.6 L708.0,754.6 L708.8,754.3 L709.6,751.5 L710.4,751.3 L711.2,748.8 L712.0,748.1 L712.8,747.3 L713.6,749.0 L714.4,748.7 L715.2,751.5 L716.0,752.4 L716.8,755.2 L717.6,755.3 L718.4,757.3 L719.2,757.3 L720.0,758.7 L720.8,756.4 L721.6,756.1 L722.4,753.3 L723.2,752.9 L724.0,750.2 L724.8,749.7 L725.6,747.5 L726.4,748.0 L727.2,746.7 L728.0,747.7 L728.8,747.0 L729.6,748.2 L730.4,747.0 L731.2,748.4 L732.0,747.1 L732.8,748.2 L733.6,747.0 L734.4,748.3 L735.2,747.2 L736.0,748.3 L736.8,747.0 L737.6,748.3 L738.4,747.6 L739.2,748.6 L740.0,747.9 L740.8,749.0 L741.6,747.8 L742.4,749.1 L743.2,748.0 L744.0,749.2 L744.8,748.5 L745.6,749.9 L746.4,749.0 L747.2,749.9 L748.0,749.4 L748.8,750.5 L749.6,749.7 L750.4,751.1 L751.2,750.3 L752.0,751.8 L752.8,750.9 L753.6,752.1 L754.4,751.2 L755.2,752.5 L756.0,751.1 L756.8,752.3 L757.6,751.4 L758.4,752.7 L759.2,751.7 L760.0,752.7 L760.8,751.6 L761.6,752.8 L762.4,752.0 L763.2,753.0 L764.0,751.7 L764.8,753.0 L765.6,751.9 L766.4,753.4 L767.2,752.4 L768.0,753.5 L768.8,752.9 L769.6,754.2 L770.4,752.9 L771.2,754.1 L772.0,753.1 L772.8,754.1 L773.6,753.4 L774.4,754.1 L775.2,753.5 L776.0,754.6 L776.8,753.5 L777.6,754.5 L778.4,753.7 L779.2,754.7 L780.0,754.2 L780.8,755.1 L781.6,754.2 L782.4,755.5 L783.2,754.3 L784.0,755.1 L784.8,754.3 L785.6,755.5 L786.4,754.4 L787.2,755.7 L788.0,754.5 L788.8,755.9 L789.6,754.5 L790.4,755.7 L791.2,754.6 L792.0,756.0 L792.8,754.7 L793.6,755.8 L794.4,754.8 L795.2,755.5 L796.0,754.6 L796.8,755.3 L797.6,754.6 L798.4,755.5 L799.2,754.9 L800.0,756.0 L800.8,754.7 L801.6,756.2 L802.4,755.0 L803.2,755.9 L804.0,755.0 L804.8,756.0 L805.6,755.4 L806.4,756.4 L807.2,755.5 L808.0,756.1 L808.8,755.5 L809.6,756.1 L810.4,755.4 L811.2,756.1 L812.0,755.4 L812.8,756.8 L813.6,755.8 L814.4,757.1 L815.2,755.9 L816.0,757.1 L816.8,756.0 L817.6,756.9 L818.4,755.7 L819.2,757.1 L820.0,755.7 L820.8,756.9 L821.6,756.0 L822.4,756.8 L823.2,755.8 L824.0,756.4 L824.8,755.0 L825.6,756.0 L826.4,755.2 L827.2,756.1 L828.0,754.9 L828.8,755.8 L829.6,754.7 L830.4,756.2 L831.2,755.0 L832.0,755.8 L832.8,754.7 L833.6,755.6 L834.4,754.4 L835.2,755.1 L836.0,753.7 L836.8,755.3 L837.6,754.0 L838.4,755.2 L839.2,754.4 L840.0,755.4 L840.8,754.5 L841.6,755.2 L842.4,754.1 L843.2,754.5 L844.0,753.7 L844.8,754.1 L845.6,753.1 L846.4,753.7 L847.2,752.8 L848.0,753.4 L848.8,752.5 L849.6,753.0 L850.4,751.7 L851.2,752.7 L852.0,752.0 L852.8,753.1 L853.6,752.0 L854.4,752.9 L855.2,752.0 L856.0,752.7 L856.8,751.6 L857.6,752.5 L858.4,751.0 L859.2,752.2 L860.0,750.8 L860.8,751.5 L861.6,750.3 L862.4,751.1 L863.2,750.0 L864.0,750.7 L864.8,749.6 L865.6,750.7 L866.4,749.3 L867.2,750.1 L868.0,748.6 L868.8,749.3 L869.6,748.3 L870.4,749.2 L871.2,746.9 L872.0,749.1 L872.8,746.1 L873.6,748.2 L874.4,744.9 L875.2,747.0 L876.0,744.0 L876.8,746.3 L877.6,743.0 L878.4,744.8 L879.2,743.0 L880.0,744.7 L880.8,742.3 L881.6,743.8 L882.4,740.9 L883.2,743.0 L884.0,740.7 L884.8,742.4 L885.6,740.2 L886.4,742.0 L887.2,738.8 L888.0,740.8 L888.8,737.7 L889.6,739.1 L890.4,735.5 L891.2,738.1 L892.0,734.4 L892.8,737.0 L893.6,733.5 L894.4,735.4 L895.2,732.5 L896.0,734.2 L896.8,731.5 L897.6,733.6 L898.4,730.5 L899.2,733.0 L900.0,729.5 L900.8,732.5 L901.6,728.3 L902.4,730.6 L903.2,728.0 L904.0,728.6 L904.8,726.1 L905.6,727.8 L906.4,724.6 L907.2,726.6 L908.0,724.1 L908.8,726.7 L909.6,724.0 L910.4,725.6 L911.2,722.6 L912.0,724.2 L912.8,721.3 L913.6,723.6 L914.4,721.2 L915.2,722.2 L916.0,719.9 L916.8,720.7 L917.6,718.1 L918.4,721.6 L919.2,716.7 L920.0,720.0 L920.8,716.5 L921.6,719.2 L922.4,714.1 L923.2,718.7 L924.0,714.5 L924.8,717.6 L925.6,713.6 L926.4,718.0 L927.2,713.0 L928.0,717.9 L928.8,712.2 L929.6,717.5 L930.4,712.8 L931.2,717.3 L932.0,713.5 L932.8,717.6 L933.6,714.1 L934.4,718.7 L935.2,716.1 L936.0,720.9 L936.8,718.0 L937.6,722.7 L938.4,720.4 L939.2,727.3 L940.0,723.6 L940.8,727.9 L941.6,725.4 L942.4,729.7 L943.2,723.4 L944.0,726.8 L944.8,721.9 L945.6,724.3 L946.4,718.8 L947.2,722.2 L948.0,716.8 L948.8,720.0 L949.6,713.4 L950.4,717.0 L951.2,712.8 L952.0,714.6 L952.8,711.0 L953.6,713.3 L954.4,710.3 L955.2,714.8 L956.0,711.0 L956.8,716.6 L957.6,715.3 L958.4,721.1 L959.2,719.3 L960.0,725.9 L960.8,726.9 L961.6,731.0 L962.4,733.2 L963.2,739.0 L964.0,741.9 L964.8,747.5 L965.6,751.8 L966.4,758.7 L967.2,762.7 L968.0,769.5 L968.8,773.8 L969.6,781.3 L970.4,785.1 L971.2,791.9 L972.0,796.3 L972.8,803.2 L973.6,807.5 L974.4,814.9 L975.2,818.9 L976.0,825.6 L976.8,829.2 L977.6,836.2 L978.4,839.6 L979.2,846.3 L980.0,849.6 L980.8,856.1 L981.6,858.7 L982.4,863.6 L983.2,866.2 L984.0,871.0 L984.8,872.8 L985.6,877.2 L986.4,877.6 L987.2,880.7 L988.0,880.1 L988.8,883.0 L989.6,882.7 L990.4,884.1 L991.2,883.3 L992.0,885.4 L992.8,882.3 L993.6,881.9 L994.4,879.2 L995.2,879.4 L996.0,875.9 L996.8,876.2 L997.6,873.2 L998.4,872.7 L999.2,869.8 L1000.0,869.9 L1000.8,867.5 L1001.6,867.8 L1002.4,865.0 L1003.2,865.1 L1004.0,862.7 L1004.8,862.9 L1005.6,860.8 L1006.4,861.2 L1007.2,859.1 L1008.0,859.9 L1008.8,857.7 L1009.6,858.2 L1010.4,856.5 L1011.2,857.3 L1012.0,855.5 L1012.8,856.0 L1013.6,854.3 L1014.4,855.6 L1015.2,853.9 L1016.0,854.6 L1016.8,852.9 L1017.6,854.5 L1018.4,852.5 L1019.2,854.1 L1020.0,852.2 L1020.8,853.3 L1021.6,852.9 L1022.4,854.7 L1023.2,854.5 L1024.0,856.1 L1024.8,855.7 L1025.6,857.7 L1026.4,856.9 L1027.2,859.0 L1028.0,858.9 L1028.8,860.8 L1029.6,860.2 L1030.4,862.7 L1031.2,862.0 L1032.0,864.2 L1032.8,863.8 L1033.6,866.3 L1034.4,865.5 L1035.2,867.8 L1036.0,866.9 L1036.8,868.3 L1037.6,867.3 L1038.4,869.0 L1039.2,868.3 L1040.0,869.6 L1040.8,868.9 L1041.6,870.8 L1042.4,870.0 L1043.2,871.5 L1044.0,871.0 L1044.8,872.4 L1045.6,871.8 L1046.4,873.5 L1047.2,872.5 L1048.0,874.3 L1048.8,873.6 L1049.6,875.3 L1050.4,874.9 L1051.2,876.8 L1052.0,876.3 L1052.8,878.9 L1053.6,878.3 L1054.4,880.6 L1055.2,879.8 L1056.0,882.2 L1056.8,882.0 L1057.6,884.1 L1058.4,883.5 L1059.2,886.3 L1060.0,885.6 L1060.8,887.6 L1061.6,887.8 L1062.4,889.5 L1063.2,890.0 L1064.0,891.6 L1064.8,891.7 L1065.6,893.3 L1066.4,893.8 L1067.2,895.4 L1068.0,895.8 L1068.8,897.5 L1069.6,897.9 L1070.4,899.6 L1071.2,900.1 L1072.0,901.6 L1072.8,901.8 L1073.6,903.4 L1074.4,904.0 L1075.2,905.7 L1076.0,906.3 L1076.8,908.2 L1077.6,908.9 L1078.4,910.7 L1079.2,911.3 L1080.0,913.2 L1080.8,913.8 L1081.6,915.8 L1082.4,916.7 L1083.2,918.8 L1084.0,919.5 L1084.8,921.5 L1085.6,922.0 L1086.4,924.2 L1087.2,925.0 L1088.0,927.1 L1088.8,927.8 L1089.6,929.9 L1090.4,930.9 L1091.2,932.8 L1092.0,933.6 L1092.8,935.9 L1093.6,936.9 L1094.4,939.0 L1095.2,939.8 L1096.0,942.3 L1096.8,942.9 L1097.6,945.2 L1098.4,945.7 L1099.2,947.8 L1100.0,948.3 L1100.8,950.0 L1101.6,950.6 L1102.4,952.1 L1103.2,952.6 L1104.0,954.6 L1104.8,954.9 L1105.6,956.6 L1106.4,956.9 L1107.2,958.2 L1108.0,958.2 L1108.8,959.4 L1109.6,959.7 L1110.4,960.9 L1111.2,960.9 L1112.0,962.2 L1112.8,962.3 L1113.6,963.8 L1114.4,963.7 L1115.2,965.2 L1116.0,965.0 L1116.8,966.4 L1117.6,966.3 L1118.4,967.8 L1119.2,967.7 L1120.0,968.7 L1120.8,968.7 L1121.6,969.9 L1122.4,969.8 L1123.2,971.0 L1124.0,971.0 L1124.8,972.1 L1125.6,972.1 L1126.4,973.6 L1127.2,973.4 L1128.0,974.7 L1128.8,974.7 L1129.6,975.8 L1130.4,975.9 L1131.2,977.4 L1132.0,977.5 L1132.8,979.1 L1133.6,979.2 L1134.4,980.8 L1135.2,980.9 L1136.0,982.5 L1136.8,982.5 L1137.6,983.6 L1138.4,983.2 L1139.2,984.0 L1140.0,983.6 L1140.8,984.4 L1141.6,984.2 L1142.4,984.7 L1143.2,984.0 L1144.0,984.7 L1144.8,983.7 L1145.6,984.4 L1146.4,983.8 L1147.2,984.3 L1148.0,983.4 L1148.8,983.7 L1149.6,982.4 L1150.4,982.7 L1151.2,981.9 L1152.0,982.0 L1152.8,981.2 L1153.6,981.5 L1154.4,980.6 L1155.2,980.5 L1156.0,979.8 L1156.8,979.6 L1157.6,978.8 L1158.4,978.7 L1159.2,977.8 L1160.0,977.9 L1160.8,976.9 L1161.6,976.9 L1162.4,976.0 L1163.2,975.8 L1164.0,974.9 L1164.8,974.7 L1165.6,973.8 L1166.4,973.7 L1167.2,972.7 L1168.0,972.5 L1168.8,971.7 L1169.6,971.5 L1170.4,970.5 L1171.2,970.2 L1172.0,969.2 L1172.8,968.8 L1173.6,967.8 L1174.4,967.5 L1175.2,966.3 L1176.0,966.1 L1176.8,965.1 L1177.6,965.0 L1178.4,963.8 L1179.2,963.4 L1180.0,962.2 L1180.8,961.7 L1181.6,960.5 L1182.4,960.1 L1183.2,958.9 L1184.0,958.1 L1184.8,956.5 L1185.6,955.6 L1186.4,953.9 L1187.2,953.0 L1188.0,951.2 L1188.8,950.4 L1189.6,948.6 L1190.4,947.7 L1191.2,946.0 L1192.0,944.9 L1192.8,943.0 L1193.6,941.9 L1194.4,940.0 L1195.2,938.8 L1196.0,936.9 L1196.8,935.8 L1197.6,933.8 L1198.4,932.6 L1199.2,930.9 L1200.0,929.8 L1200.8,928.0 L1201.6,927.1 L1202.4,925.3 L1203.2,924.3 L1204.0,922.7 L1204.8,921.7 L1205.6,919.9 L1206.4,918.9 L1207.2,916.9 L1208.0,915.7 L1208.8,913.9 L1209.6,912.8 L1210.4,910.7 L1211.2,909.6 L1212.0,907.4 L1212.8,906.0 L1213.6,903.8 L1214.4,902.5 L1215.2,900.3 L1216.0,899.1 L1216.8,897.0 L1217.6,895.9 L1218.4,893.8 L1219.2,892.7 L1220.0,891.0 L1220.8,891.1 L1221.6,890.4 L1222.4,890.6 L1223.2,890.1 L1224.0,890.6 L1224.8,890.5 L1225.6,891.2 L1226.4,891.1 L1227.2,891.8 L1228.0,893.1 L1228.8,895.6 L1229.6,897.3 L1230.4,899.6 L1231.2,901.6 L1232.0,904.4 L1232.8,906.5 L1233.6,909.0 L1234.4,909.5 L1235.2,910.5 L1236.0,911.1 L1236.8,912.0 L1237.6,911.8 L1238.4,912.2 L1239.2,912.0 L1240.0,910.9 L1240.8,904.1 L1241.6,898.1 L1242.4,892.0 L1243.2,891.3 L1244.0,889.9 L1244.8,889.5 L1245.6,889.0 L1246.4,889.2 L1247.2,888.5 L1248.0,889.6 L1248.8,890.0 L1249.6,891.3 L1250.4,891.6 L1251.2,892.7 L1252.0,893.1 L1252.8,894.4 L1253.6,894.7 L1254.4,895.2 L1255.2,894.8 L1256.0,895.4 L1256.8,894.9 L1257.6,895.5 L1258.4,895.0 L1259.2,895.4 L1260.0,894.8 L1260.8,895.1 L1261.6,894.6 L1262.4,894.9 L1263.2,893.2 L1264.0,892.6 L1264.8,890.9 L1265.6,890.1 L1266.4,888.3 L1267.2,887.4 L1268.0,885.7 L1268.8,884.7 L1269.6,883.0 L1270.4,882.4 L1271.2,881.0 L1272.0,880.6 L1272.8,879.2 L1273.6,879.1 L1274.4,878.4 L1275.2,878.4 L1276.0,877.6 L1276.8,878.4 L1277.6,878.7 L1278.4,879.5 L1279.2,879.5 L1280.0,880.3 L1280.8,880.4 L1281.6,881.1 L1282.4,880.9 L1283.2,879.4 L1284.0,877.2 L1284.8,875.8 L1285.6,873.5 L1286.4,872.2 L1287.2,870.0 L1288.0,868.7 L1288.8,866.7 L1289.6,865.4 L1290.4,863.4 L1291.2,862.2 L1292.0,860.3 L1292.8,859.2 L1293.6,857.2 L1294.4,856.0 L1295.2,854.1 L1296.0,852.9 L1296.8,850.8 L1297.6,849.6 L1298.4,847.4 L1299.2,846.2 L1300.0,844.0 L1300.8,842.8 L1301.6,841.4 L1302.4,841.0 L1303.2,839.7 L1304.0,839.5 L1304.8,838.1 L1305.6,837.8 L1306.4,836.5 L1307.2,836.1 L1308.0,835.0 L1308.8,834.6 L1309.6,833.5 L1310.4,833.2 L1311.2,831.9 L1312.0,831.6 L1312.8,830.4 L1313.6,830.0 L1314.4,828.7 L1315.2,828.3 L1316.0,827.0 L1316.8,827.0 L1317.6,826.0 L1318.4,825.9 L1319.2,824.8 L1320.0,824.6 L1320.8,823.6 L1321.6,823.5 L1322.4,822.5 L1323.2,822.5 L1324.0,821.5 L1324.8,821.5 L1325.6,820.6 L1326.4,820.6 L1327.2,819.7 L1328.0,819.6 L1328.8,818.6 L1329.6,818.6 L1330.4,817.8 L1331.2,817.8 L1332.0,816.7 L1332.8,816.7 L1333.6,815.9 L1334.4,815.7 L1335.2,814.9 L1336.0,814.8 L1336.8,814.0 L1337.6,814.1 L1338.4,813.4 L1339.2,813.3 L1340.0,812.4 L1340.8,812.4 L1341.6,811.5 L1342.4,811.2 L1343.2,810.4 L1344.0,810.2 L1344.8,809.2 L1345.6,808.9 L1346.4,807.6 L1347.2,806.5 L1348.0,804.5 L1348.8,803.5 L1349.6,801.6 L1350.4,800.9 L1351.2,799.6 L1352.0,799.0 L1352.8,798.1 L1353.6,797.9 L1354.4,797.0 L1355.2,796.6 L1356.0,794.9 L1356.8,794.0 L1357.6,792.3 L1358.4,791.3 L1359.2,789.6 L1360.0,788.5 L1360.8,786.8 L1361.6,785.7 L1362.4,783.8 L1363.2,782.6 L1364.0,780.6 L1364.8,779.9 L1365.6,778.1 L1366.4,777.4 L1367.2,775.7 L1368.0,775.3 L1368.8,774.3 L1369.6,773.9 L1370.4,773.0 L1371.2,772.7 L1372.0,772.0 L1372.8,771.9 L1373.6,770.9 L1374.4,770.6 L1375.2,769.8 L1376.0,769.6 L1376.8,768.7 L1377.0,768.8" fill="none" stroke="#EE4040" stroke-width="10.7" stroke-linejoin="round" stroke-linecap="butt"/>
</g>
<line x1="331.0" y1="112.1" x2="331.0" y2="1103.7" stroke="#000" stroke-width="2" stroke-dasharray="7.3 5.05" shape-rendering="crispEdges"/>
<polygon points="331.0,85.9 320.0,115.7 342.0,115.7" fill="#000"/>
<line x1="991.9" y1="100.1" x2="991.9" y2="1086.0" stroke="#000" stroke-width="2" stroke-dasharray="7.3 5.05" shape-rendering="crispEdges"/>
<polygon points="991.9,73.9 980.9,103.7 1002.9,103.7" fill="#000"/>
<line x1="1141.8" y1="100.1" x2="1141.8" y2="1086.0" stroke="#000" stroke-width="2" stroke-dasharray="7.3 5.05" shape-rendering="crispEdges"/>
<polygon points="1141.8,73.9 1130.8,103.7 1152.8,103.7" fill="#000"/>
<line x1="1238.0" y1="101.2" x2="1238.0" y2="1086.0" stroke="#000" stroke-width="2" stroke-dasharray="7.3 5.05" shape-rendering="crispEdges"/>
<polygon points="1238.0,75.0 1227.0,104.8 1249.0,104.8" fill="#000"/>
<g font-size="54" text-anchor="middle">
<text x="341.8" y="58.2">3407</text>
<text x="986.5" y="48">1558</text>
<text x="1135.5" y="45.2">1141</text>
<text x="1243" y="45.4">873</text>
</g>
<line x1="372" y1="148" x2="477" y2="148" stroke="#505050" stroke-width="10" stroke-linecap="round"/>
<text x="504.8" y="167.2" font-size="52.7" style="font-kerning:none">GAC</text>
<line x1="372" y1="214" x2="477" y2="214" stroke="#196ADC" stroke-width="10" stroke-linecap="round"/>
<text x="504.4" y="232.6" font-size="52.7" style="font-kerning:none">NaOH-GAC</text>
<line x1="372" y1="280" x2="477" y2="280" stroke="#EE4040" stroke-width="10" stroke-linecap="round"/>
<text x="504.4" y="298.2" font-size="52.7" style="font-kerning:none">NaOH-GAC-TD-94+TD-10</text>
<g font-size="56" text-anchor="middle">
<text x="118.3" y="1168.2">4000</text>
<text x="297.1" y="1168.2">3500</text>
<text x="475.8" y="1168.2">3000</text>
<text x="654.6" y="1168.2">2500</text>
<text x="833.4" y="1168.2">2000</text>
<text x="1012.2" y="1168.2">1500</text>
<text x="1190.9" y="1168.2">1000</text>
<text x="1369.7" y="1168.2">500</text>
</g>
<text x="448.3" y="1294.4" font-size="66.5" style="font-kerning:none">Wavenumber / cm<tspan dy="-28.6" dx="-0.5">−</tspan><tspan dx="-3">1</tspan></text>
<text transform="translate(61.2,851) rotate(-90)" font-size="67" style="font-kerning:none">Transmittance / %</text>
</svg>
</body></html>
